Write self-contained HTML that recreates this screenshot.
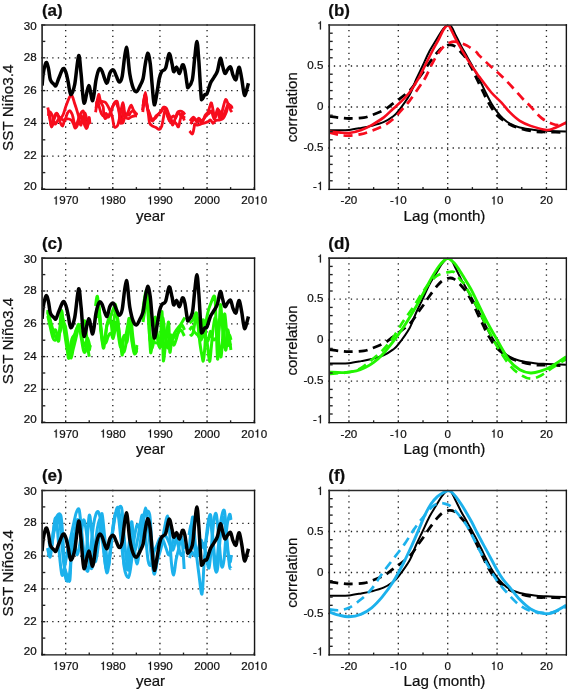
<!DOCTYPE html>
<html><head><meta charset="utf-8"><style>html,body{margin:0;padding:0;background:#fff;}svg{display:block;}</style></head><body>
<svg width="568" height="690" viewBox="0 0 568 690">
<defs><filter id="soft" x="0" y="0" width="568" height="690" filterUnits="userSpaceOnUse"><feGaussianBlur stdDeviation="0.4"/></filter></defs>
<style>text{stroke:#111;stroke-width:0.22;paint-order:stroke;}</style>
<rect width="568" height="690" fill="#fff"/>
<g filter="url(#soft)">
<clipPath id="cl0"><rect x="42.10" y="25.00" width="212.10" height="164.00"/></clipPath>
<clipPath id="cr0"><rect x="329.20" y="25.00" width="237.00" height="164.00"/></clipPath>
<line x1="65.67" y1="24.35" x2="65.67" y2="189.00" stroke="#1c1c1c" stroke-width="1.3" stroke-dasharray="1.30 4.367"/>
<line x1="112.80" y1="24.35" x2="112.80" y2="189.00" stroke="#1c1c1c" stroke-width="1.3" stroke-dasharray="1.30 4.367"/>
<line x1="159.93" y1="24.35" x2="159.93" y2="189.00" stroke="#1c1c1c" stroke-width="1.3" stroke-dasharray="1.30 4.367"/>
<line x1="207.07" y1="24.35" x2="207.07" y2="189.00" stroke="#1c1c1c" stroke-width="1.3" stroke-dasharray="1.30 4.367"/>
<line x1="41.06" y1="156.20" x2="254.20" y2="156.20" stroke="#1c1c1c" stroke-width="1.3" stroke-dasharray="1.30 4.290"/>
<line x1="41.06" y1="123.40" x2="254.20" y2="123.40" stroke="#1c1c1c" stroke-width="1.3" stroke-dasharray="1.30 4.290"/>
<line x1="41.06" y1="90.60" x2="254.20" y2="90.60" stroke="#1c1c1c" stroke-width="1.3" stroke-dasharray="1.30 4.290"/>
<line x1="41.06" y1="57.80" x2="254.20" y2="57.80" stroke="#1c1c1c" stroke-width="1.3" stroke-dasharray="1.30 4.290"/>
<g clip-path="url(#cl0)">
<path d="M47.80,107.50 C48.17,109.25 49.38,114.75 50.00,118.00 C50.62,121.25 50.83,126.83 51.50,127.00 C52.17,127.17 53.08,121.17 54.00,119.00 C54.92,116.83 56.00,114.17 57.00,114.00 C58.00,113.83 59.02,117.80 60.00,118.00 C60.98,118.20 61.90,117.20 62.90,115.20 C63.90,113.20 64.83,109.10 66.00,106.00 C67.17,102.90 68.87,98.25 69.90,96.60 C70.93,94.95 71.43,95.03 72.20,96.10 C72.97,97.17 73.83,100.98 74.50,103.00 C75.17,105.02 75.52,105.98 76.20,108.20 C76.88,110.42 78.02,114.00 78.60,116.30 C79.18,118.60 79.30,120.55 79.70,122.00 C80.10,123.45 80.45,125.67 81.00,125.00 C81.55,124.33 82.33,120.00 83.00,118.00 C83.67,116.00 84.33,112.67 85.00,113.00 C85.67,113.33 86.33,118.17 87.00,120.00 C87.67,121.83 88.67,123.33 89.00,124.00" fill="none" stroke="#f7081f" stroke-width="2.80" stroke-linejoin="round" stroke-linecap="butt"/>
<path d="M48.50,111.00 C48.83,112.83 49.92,119.50 50.50,122.00 C51.08,124.50 51.25,127.17 52.00,126.00 C52.75,124.83 54.08,117.00 55.00,115.00 C55.92,113.00 56.67,112.83 57.50,114.00 C58.33,115.17 59.17,120.00 60.00,122.00 C60.83,124.00 61.83,126.00 62.50,126.00 C63.17,126.00 63.45,123.33 64.00,122.00 C64.55,120.67 65.22,119.50 65.80,118.00 C66.38,116.50 66.82,114.23 67.50,113.00 C68.18,111.77 69.23,110.60 69.90,110.60 C70.57,110.60 71.02,112.05 71.50,113.00 C71.98,113.95 72.30,114.38 72.80,116.30 C73.30,118.22 74.02,122.75 74.50,124.50 C74.98,126.25 75.20,127.22 75.70,126.80 C76.20,126.38 76.78,123.97 77.50,122.00 C78.22,120.03 79.05,116.83 80.00,115.00 C80.95,113.17 82.38,110.50 83.20,111.00 C84.02,111.50 84.42,115.37 84.90,118.00 C85.38,120.63 85.58,125.63 86.10,126.80 C86.62,127.97 87.43,126.30 88.00,125.00 C88.57,123.70 89.25,120.00 89.50,119.00" fill="none" stroke="#f7081f" stroke-width="2.80" stroke-linejoin="round" stroke-linecap="butt"/>
<path d="M48.20,116.00 C48.50,115.33 49.28,112.00 50.00,112.00 C50.72,112.00 51.67,114.00 52.50,116.00 C53.33,118.00 54.08,123.33 55.00,124.00 C55.92,124.67 57.17,121.00 58.00,120.00 C58.83,119.00 59.17,118.00 60.00,118.00 C60.83,118.00 62.00,119.83 63.00,120.00 C64.00,120.17 65.00,119.17 66.00,119.00 C67.00,118.83 68.07,118.77 69.00,119.00 C69.93,119.23 70.85,119.57 71.60,120.40 C72.35,121.23 72.93,122.73 73.50,124.00 C74.07,125.27 74.42,127.67 75.00,128.00 C75.58,128.33 76.33,127.33 77.00,126.00 C77.67,124.67 78.33,121.67 79.00,120.00 C79.67,118.33 80.33,116.00 81.00,116.00 C81.67,116.00 82.33,118.33 83.00,120.00 C83.67,121.67 84.33,124.67 85.00,126.00 C85.67,127.33 86.33,129.42 87.00,128.00 C87.67,126.58 88.50,118.17 89.00,117.50 C89.50,116.83 89.83,122.92 90.00,124.00" fill="none" stroke="#f7081f" stroke-width="2.80" stroke-linejoin="round" stroke-linecap="butt"/>
<path d="M95.60,112.20 C95.83,110.67 96.48,105.97 97.00,103.00 C97.52,100.03 98.08,94.57 98.70,94.40 C99.32,94.23 99.95,99.90 100.70,102.00 C101.45,104.10 102.68,104.87 103.20,107.00 C103.72,109.13 103.48,112.87 103.80,114.80 C104.12,116.73 104.57,118.23 105.10,118.60 C105.63,118.97 106.35,117.32 107.00,117.00 C107.65,116.68 108.33,117.53 109.00,116.70 C109.67,115.87 110.33,113.78 111.00,112.00 C111.67,110.22 112.28,107.67 113.00,106.00 C113.72,104.33 114.55,102.00 115.30,102.00 C116.05,102.00 116.77,104.08 117.50,106.00 C118.23,107.92 119.22,110.67 119.70,113.50 C120.18,116.33 120.02,121.92 120.40,123.00 C120.78,124.08 121.48,122.17 122.00,120.00 C122.52,117.83 122.92,110.55 123.50,110.00 C124.08,109.45 124.75,116.33 125.50,116.70 C126.25,117.07 127.33,113.65 128.00,112.20 C128.67,110.75 128.97,109.17 129.50,108.00 C130.03,106.83 130.62,105.03 131.20,105.20 C131.78,105.37 132.37,107.62 133.00,109.00 C133.63,110.38 134.23,112.65 135.00,113.50 C135.77,114.35 137.17,114.00 137.60,114.10" fill="none" stroke="#f7081f" stroke-width="2.80" stroke-linejoin="round" stroke-linecap="butt"/>
<path d="M96.50,104.00 C96.75,103.17 97.42,99.50 98.00,99.00 C98.58,98.50 99.35,100.60 100.00,101.00 C100.65,101.40 100.93,101.12 101.90,101.40 C102.87,101.68 104.62,101.53 105.80,102.70 C106.98,103.87 107.95,106.18 109.00,108.40 C110.05,110.62 111.27,113.02 112.10,116.00 C112.93,118.98 113.35,124.47 114.00,126.30 C114.65,128.13 115.37,127.22 116.00,127.00 C116.63,126.78 117.22,126.50 117.80,125.00 C118.38,123.50 118.88,120.83 119.50,118.00 C120.12,115.17 120.93,110.55 121.50,108.00 C122.07,105.45 122.48,102.70 122.90,102.70 C123.32,102.70 123.68,105.88 124.00,108.00 C124.32,110.12 124.38,113.73 124.80,115.40 C125.22,117.07 125.85,117.47 126.50,118.00 C127.15,118.53 127.95,118.77 128.70,118.60 C129.45,118.43 130.12,117.43 131.00,117.00 C131.88,116.57 133.00,116.17 134.00,116.00 C135.00,115.83 136.50,116.00 137.00,116.00" fill="none" stroke="#f7081f" stroke-width="2.80" stroke-linejoin="round" stroke-linecap="butt"/>
<path d="M96.00,108.00 C96.25,106.67 97.00,100.33 97.50,100.00 C98.00,99.67 98.33,103.67 99.00,106.00 C99.67,108.33 100.67,112.33 101.50,114.00 C102.33,115.67 103.28,116.08 104.00,116.00 C104.72,115.92 105.22,113.67 105.80,113.50 C106.38,113.33 106.97,114.68 107.50,115.00 C108.03,115.32 108.33,116.40 109.00,115.40 C109.67,114.40 110.67,110.90 111.50,109.00 C112.33,107.10 113.05,105.27 114.00,104.00 C114.95,102.73 116.37,100.07 117.20,101.40 C118.03,102.73 118.45,108.73 119.00,112.00 C119.55,115.27 119.85,119.17 120.50,121.00 C121.15,122.83 122.23,123.50 122.90,123.00 C123.57,122.50 123.90,119.50 124.50,118.00 C125.10,116.50 125.83,114.50 126.50,114.00 C127.17,113.50 128.03,114.87 128.50,115.00 C128.97,115.13 128.88,115.30 129.30,114.80 C129.72,114.30 130.22,112.63 131.00,112.00 C131.78,111.37 133.00,110.50 134.00,111.00 C135.00,111.50 136.50,114.33 137.00,115.00" fill="none" stroke="#f7081f" stroke-width="2.80" stroke-linejoin="round" stroke-linecap="butt"/>
<path d="M142.50,110.30 C142.72,108.70 143.32,103.67 143.80,100.70 C144.28,97.73 144.97,92.50 145.40,92.50 C145.83,92.50 146.13,98.28 146.40,100.70 C146.67,103.12 146.47,104.87 147.00,107.00 C147.53,109.13 148.85,111.57 149.60,113.50 C150.35,115.43 150.65,117.75 151.50,118.60 C152.35,119.45 153.78,119.03 154.70,118.60 C155.62,118.17 156.27,116.85 157.00,116.00 C157.73,115.15 158.22,114.67 159.10,113.50 C159.98,112.33 161.45,110.07 162.30,109.00 C163.15,107.93 163.52,107.22 164.20,107.10 C164.88,106.98 165.65,107.15 166.40,108.30 C167.15,109.45 167.83,111.97 168.70,114.00 C169.57,116.03 170.93,118.67 171.60,120.50 C172.27,122.33 172.13,125.20 172.70,125.00 C173.27,124.80 174.22,121.40 175.00,119.30 C175.78,117.20 176.52,113.75 177.40,112.40 C178.28,111.05 179.33,111.20 180.30,111.20 C181.27,111.20 182.43,111.82 183.20,112.40 C183.97,112.98 184.62,114.32 184.90,114.70" fill="none" stroke="#f7081f" stroke-width="2.80" stroke-linejoin="round" stroke-linecap="butt"/>
<path d="M142.80,112.00 C143.08,109.67 144.00,100.67 144.50,98.00 C145.00,95.33 145.38,94.83 145.80,96.00 C146.22,97.17 146.55,101.83 147.00,105.00 C147.45,108.17 148.07,112.00 148.50,115.00 C148.93,118.00 148.90,121.13 149.60,123.00 C150.30,124.87 151.63,125.45 152.70,126.20 C153.77,126.95 154.93,126.97 156.00,127.50 C157.07,128.03 158.15,129.62 159.10,129.40 C160.05,129.18 160.95,128.32 161.70,126.20 C162.45,124.08 163.05,119.40 163.60,116.70 C164.15,114.00 164.52,110.78 165.00,110.00 C165.48,109.22 165.92,110.67 166.50,112.00 C167.08,113.33 167.83,116.33 168.50,118.00 C169.17,119.67 169.83,121.00 170.50,122.00 C171.17,123.00 171.83,124.00 172.50,124.00 C173.17,124.00 173.83,122.00 174.50,122.00 C175.17,122.00 175.83,123.20 176.50,124.00 C177.17,124.80 177.87,127.58 178.50,126.80 C179.13,126.02 179.72,121.43 180.30,119.30 C180.88,117.17 181.33,113.80 182.00,114.00 C182.67,114.20 183.92,119.42 184.30,120.50" fill="none" stroke="#f7081f" stroke-width="2.80" stroke-linejoin="round" stroke-linecap="butt"/>
<path d="M143.00,106.00 C143.33,104.17 144.42,95.67 145.00,95.00 C145.58,94.33 146.00,99.50 146.50,102.00 C147.00,104.50 147.42,107.50 148.00,110.00 C148.58,112.50 149.22,115.17 150.00,117.00 C150.78,118.83 151.70,121.17 152.70,121.00 C153.70,120.83 155.03,117.17 156.00,116.00 C156.97,114.83 157.67,114.67 158.50,114.00 C159.33,113.33 160.17,113.13 161.00,112.00 C161.83,110.87 162.75,107.53 163.50,107.20 C164.25,106.87 164.83,108.53 165.50,110.00 C166.17,111.47 166.83,114.17 167.50,116.00 C168.17,117.83 168.92,120.67 169.50,121.00 C170.08,121.33 170.33,118.83 171.00,118.00 C171.67,117.17 172.75,116.00 173.50,116.00 C174.25,116.00 174.92,118.17 175.50,118.00 C176.08,117.83 176.42,115.83 177.00,115.00 C177.58,114.17 178.33,112.83 179.00,113.00 C179.67,113.17 180.25,115.17 181.00,116.00 C181.75,116.83 182.92,118.00 183.50,118.00 C184.08,118.00 184.33,116.33 184.50,116.00" fill="none" stroke="#f7081f" stroke-width="2.80" stroke-linejoin="round" stroke-linecap="butt"/>
<path d="M189.50,131.00 C189.98,131.48 191.63,134.48 192.40,133.90 C193.17,133.32 193.72,129.15 194.10,127.50 C194.48,125.85 194.12,124.38 194.70,124.00 C195.28,123.62 196.53,125.20 197.60,125.20 C198.67,125.20 199.93,124.38 201.10,124.00 C202.27,123.62 203.45,123.28 204.60,122.90 C205.75,122.52 207.02,122.18 208.00,121.70 C208.98,121.22 209.68,119.73 210.50,120.00 C211.32,120.27 212.15,123.13 212.90,123.30 C213.65,123.47 214.42,121.48 215.00,121.00 C215.58,120.52 215.58,120.60 216.40,120.40 C217.22,120.20 218.73,120.18 219.90,119.80 C221.07,119.42 222.33,119.35 223.40,118.10 C224.47,116.85 225.45,114.48 226.30,112.30 C227.15,110.12 227.63,105.97 228.50,105.00 C229.37,104.03 230.92,105.87 231.50,106.50 C232.08,107.13 231.92,108.42 232.00,108.80" fill="none" stroke="#f7081f" stroke-width="2.80" stroke-linejoin="round" stroke-linecap="butt"/>
<path d="M190.00,121.10 C190.58,120.43 192.43,117.20 193.50,117.10 C194.57,117.00 195.52,120.32 196.40,120.50 C197.28,120.68 198.02,118.20 198.80,118.20 C199.58,118.20 200.33,120.30 201.10,120.50 C201.87,120.70 202.72,120.27 203.40,119.40 C204.08,118.53 204.42,116.57 205.20,115.30 C205.98,114.03 207.33,113.25 208.10,111.80 C208.87,110.35 209.23,108.07 209.80,106.60 C210.37,105.13 210.88,102.05 211.50,103.00 C212.12,103.95 212.92,109.97 213.50,112.30 C214.08,114.63 214.32,117.58 215.00,117.00 C215.68,116.42 216.98,109.10 217.60,108.80 C218.22,108.50 218.30,113.50 218.70,115.20 C219.10,116.90 219.62,118.82 220.00,119.00 C220.38,119.18 220.43,118.38 221.00,116.30 C221.57,114.22 222.62,109.30 223.40,106.50 C224.18,103.70 224.93,99.98 225.70,99.50 C226.47,99.02 227.28,102.52 228.00,103.60 C228.72,104.68 229.42,105.52 230.00,106.00 C230.58,106.48 231.25,106.42 231.50,106.50" fill="none" stroke="#f7081f" stroke-width="2.80" stroke-linejoin="round" stroke-linecap="butt"/>
<path d="M190.50,124.00 C190.83,123.50 191.83,121.83 192.50,121.00 C193.17,120.17 193.75,118.83 194.50,119.00 C195.25,119.17 196.17,121.67 197.00,122.00 C197.83,122.33 198.67,121.00 199.50,121.00 C200.33,121.00 201.17,122.50 202.00,122.00 C202.83,121.50 203.67,119.17 204.50,118.00 C205.33,116.83 206.17,115.83 207.00,115.00 C207.83,114.17 208.75,113.67 209.50,113.00 C210.25,112.33 210.92,110.50 211.50,111.00 C212.08,111.50 212.50,114.67 213.00,116.00 C213.50,117.33 213.92,119.33 214.50,119.00 C215.08,118.67 215.83,115.50 216.50,114.00 C217.17,112.50 217.83,110.17 218.50,110.00 C219.17,109.83 219.83,111.83 220.50,113.00 C221.17,114.17 221.83,117.00 222.50,117.00 C223.17,117.00 223.83,114.50 224.50,113.00 C225.17,111.50 225.83,109.50 226.50,108.00 C227.17,106.50 227.83,103.67 228.50,104.00 C229.17,104.33 229.92,108.67 230.50,110.00 C231.08,111.33 231.75,111.67 232.00,112.00" fill="none" stroke="#f7081f" stroke-width="2.80" stroke-linejoin="round" stroke-linecap="butt"/>
<path d="M42.10,85.60 C42.30,83.55 42.63,77.15 43.30,73.30 C43.97,69.45 45.23,63.28 46.10,62.50 C46.97,61.72 47.78,65.70 48.50,68.60 C49.22,71.50 49.45,77.23 50.40,79.90 C51.35,82.57 53.27,83.65 54.20,84.60 C55.13,85.55 55.22,86.70 56.00,85.60 C56.78,84.50 57.72,80.83 58.90,78.00 C60.08,75.17 61.93,69.53 63.10,68.60 C64.27,67.67 65.03,70.05 65.90,72.40 C66.77,74.75 67.50,79.02 68.30,82.70 C69.10,86.38 69.63,94.20 70.70,94.50 C71.77,94.80 73.38,90.95 74.70,84.50 C76.02,78.05 77.53,57.55 78.60,55.80 C79.67,54.05 80.20,66.13 81.10,74.00 C82.00,81.87 82.73,101.07 84.00,103.00 C85.27,104.93 87.25,85.98 88.70,85.60 C90.15,85.22 91.48,101.63 92.70,100.70 C93.92,99.77 94.95,85.22 96.00,80.00 C97.05,74.78 98.00,70.90 99.00,69.40 C100.00,67.90 100.73,68.68 102.00,71.00 C103.27,73.32 105.27,82.98 106.60,83.30 C107.93,83.62 108.85,75.12 110.00,72.90 C111.15,70.68 112.43,69.43 113.50,70.00 C114.57,70.57 115.43,74.28 116.40,76.30 C117.37,78.32 118.33,82.10 119.30,82.10 C120.27,82.10 121.03,82.08 122.20,76.30 C123.37,70.52 125.03,47.78 126.30,47.40 C127.57,47.02 128.65,67.23 129.80,74.00 C130.95,80.77 132.08,85.05 133.20,88.00 C134.32,90.95 135.35,92.10 136.50,91.70 C137.65,91.30 139.00,87.80 140.10,85.60 C141.20,83.40 142.27,81.88 143.10,78.50 C143.93,75.12 144.33,69.52 145.10,65.30 C145.87,61.08 146.85,53.53 147.70,53.20 C148.55,52.87 149.45,57.90 150.20,63.30 C150.95,68.70 151.52,78.68 152.20,85.60 C152.88,92.52 153.45,103.95 154.30,104.80 C155.15,105.65 156.47,95.08 157.30,90.70 C158.13,86.32 158.55,81.72 159.30,78.50 C160.05,75.28 160.75,73.12 161.80,71.40 C162.85,69.68 164.38,71.15 165.60,68.20 C166.82,65.25 168.03,54.47 169.10,53.70 C170.17,52.93 171.23,60.60 172.00,63.60 C172.77,66.60 172.93,71.12 173.70,71.70 C174.47,72.28 175.63,66.80 176.60,67.10 C177.57,67.40 178.53,73.88 179.50,73.50 C180.47,73.12 181.52,65.48 182.40,64.80 C183.28,64.12 184.02,66.12 184.80,69.40 C185.58,72.68 186.53,81.50 187.10,84.50 C187.67,87.50 187.33,88.18 188.20,87.40 C189.07,86.62 191.23,84.53 192.30,79.80 C193.37,75.07 193.83,65.37 194.60,59.00 C195.37,52.63 196.22,41.60 196.90,41.60 C197.58,41.60 198.02,50.12 198.70,59.00 C199.38,67.88 200.43,88.15 201.00,94.90 C201.57,101.65 201.50,99.50 202.10,99.50 C202.70,99.50 203.78,95.87 204.60,94.90 C205.42,93.93 206.03,95.63 207.00,93.70 C207.97,91.77 209.25,86.00 210.40,83.30 C211.55,80.60 212.73,79.53 213.90,77.50 C215.07,75.47 216.33,74.28 217.40,71.10 C218.47,67.92 219.43,59.27 220.30,58.40 C221.17,57.53 221.83,63.40 222.60,65.90 C223.37,68.40 224.03,72.82 224.90,73.40 C225.77,73.98 226.83,70.45 227.80,69.40 C228.77,68.35 229.83,66.13 230.70,67.10 C231.57,68.07 232.13,73.08 233.00,75.20 C233.87,77.32 235.13,80.38 235.90,79.80 C236.67,79.22 237.02,73.73 237.60,71.70 C238.18,69.67 238.72,66.45 239.40,67.60 C240.08,68.75 241.03,74.83 241.70,78.60 C242.37,82.37 242.87,87.38 243.40,90.20 C243.93,93.02 244.32,95.68 244.90,95.50 C245.48,95.32 246.32,91.13 246.90,89.10 C247.48,87.07 248.15,84.27 248.40,83.30" fill="none" stroke="#000" stroke-width="3.50" stroke-linejoin="round" stroke-linecap="butt"/>
</g>
<line x1="42.10" y1="189.00" x2="45.30" y2="189.00" stroke="#222" stroke-width="1.35"/>
<line x1="42.10" y1="172.60" x2="45.30" y2="172.60" stroke="#222" stroke-width="1.35"/>
<line x1="42.10" y1="156.20" x2="45.30" y2="156.20" stroke="#222" stroke-width="1.35"/>
<line x1="42.10" y1="139.80" x2="45.30" y2="139.80" stroke="#222" stroke-width="1.35"/>
<line x1="42.10" y1="123.40" x2="45.30" y2="123.40" stroke="#222" stroke-width="1.35"/>
<line x1="42.10" y1="107.00" x2="45.30" y2="107.00" stroke="#222" stroke-width="1.35"/>
<line x1="42.10" y1="90.60" x2="45.30" y2="90.60" stroke="#222" stroke-width="1.35"/>
<line x1="42.10" y1="74.20" x2="45.30" y2="74.20" stroke="#222" stroke-width="1.35"/>
<line x1="42.10" y1="57.80" x2="45.30" y2="57.80" stroke="#222" stroke-width="1.35"/>
<line x1="42.10" y1="41.40" x2="45.30" y2="41.40" stroke="#222" stroke-width="1.35"/>
<line x1="42.10" y1="25.00" x2="45.30" y2="25.00" stroke="#222" stroke-width="1.35"/>
<line x1="42.10" y1="189.40" x2="42.10" y2="187.10" stroke="#222" stroke-width="1.35"/>
<line x1="65.67" y1="189.40" x2="65.67" y2="187.10" stroke="#222" stroke-width="1.35"/>
<line x1="89.23" y1="189.40" x2="89.23" y2="187.10" stroke="#222" stroke-width="1.35"/>
<line x1="112.80" y1="189.40" x2="112.80" y2="187.10" stroke="#222" stroke-width="1.35"/>
<line x1="136.37" y1="189.40" x2="136.37" y2="187.10" stroke="#222" stroke-width="1.35"/>
<line x1="159.93" y1="189.40" x2="159.93" y2="187.10" stroke="#222" stroke-width="1.35"/>
<line x1="183.50" y1="189.40" x2="183.50" y2="187.10" stroke="#222" stroke-width="1.35"/>
<line x1="207.07" y1="189.40" x2="207.07" y2="187.10" stroke="#222" stroke-width="1.35"/>
<line x1="230.63" y1="189.40" x2="230.63" y2="187.10" stroke="#222" stroke-width="1.35"/>
<line x1="254.20" y1="189.40" x2="254.20" y2="187.10" stroke="#222" stroke-width="1.35"/>
<line x1="41.30" y1="25.00" x2="255.25" y2="25.00" stroke="#2c2c2c" stroke-width="1.7"/>
<line x1="42.10" y1="24.20" x2="42.10" y2="190.10" stroke="#2c2c2c" stroke-width="1.7"/>
<line x1="41.30" y1="189.40" x2="255.25" y2="189.40" stroke="#141414" stroke-width="1.4"/>
<line x1="254.55" y1="24.20" x2="254.55" y2="190.10" stroke="#141414" stroke-width="1.4"/>
<text x="23.70" y="189.70" font-family='"Liberation Sans", sans-serif' font-size="11.6" fill="#111">20</text>
<text x="23.70" y="159.20" font-family='"Liberation Sans", sans-serif' font-size="11.6" fill="#111">22</text>
<text x="23.70" y="126.40" font-family='"Liberation Sans", sans-serif' font-size="11.6" fill="#111">24</text>
<text x="23.70" y="93.60" font-family='"Liberation Sans", sans-serif' font-size="11.6" fill="#111">26</text>
<text x="23.70" y="60.80" font-family='"Liberation Sans", sans-serif' font-size="11.6" fill="#111">28</text>
<text x="23.70" y="29.90" font-family='"Liberation Sans", sans-serif' font-size="11.6" fill="#111">30</text>
<path d="M56.73,204.40 L56.73,196.18 L56.04,196.18 C55.70,197.37 55.15,197.67 54.22,197.83 L54.22,198.51 L55.70,198.51 L55.70,204.40 Z" fill="#111" stroke="#111" stroke-width="0.22" stroke-linejoin="round"/>
<text x="59.22" y="204.40" font-family='"Liberation Sans", sans-serif' font-size="11.6" fill="#111">970</text>
<path d="M103.87,204.40 L103.87,196.18 L103.17,196.18 C102.84,197.37 102.28,197.67 101.35,197.83 L101.35,198.51 L102.84,198.51 L102.84,204.40 Z" fill="#111" stroke="#111" stroke-width="0.22" stroke-linejoin="round"/>
<text x="106.35" y="204.40" font-family='"Liberation Sans", sans-serif' font-size="11.6" fill="#111">980</text>
<path d="M151.00,204.40 L151.00,196.18 L150.31,196.18 C149.97,197.37 149.41,197.67 148.48,197.83 L148.48,198.51 L149.97,198.51 L149.97,204.40 Z" fill="#111" stroke="#111" stroke-width="0.22" stroke-linejoin="round"/>
<text x="153.48" y="204.40" font-family='"Liberation Sans", sans-serif' font-size="11.6" fill="#111">990</text>
<text x="194.17" y="204.40" font-family='"Liberation Sans", sans-serif' font-size="11.6" fill="#111">2000</text>
<text x="241.30" y="204.40" font-family='"Liberation Sans", sans-serif' font-size="11.6" fill="#111">20</text>
<path d="M258.17,204.40 L258.17,196.18 L257.47,196.18 C257.13,197.37 256.58,197.67 255.65,197.83 L255.65,198.51 L257.13,198.51 L257.13,204.40 Z" fill="#111" stroke="#111" stroke-width="0.22" stroke-linejoin="round"/>
<text x="260.65" y="204.40" font-family='"Liberation Sans", sans-serif' font-size="11.6" fill="#111">0</text>
<text x="150.5" y="221.20" text-anchor="middle" font-family='"Liberation Sans", sans-serif' font-size="15" fill="#111">year</text>
<text transform="translate(13.4,107.80) rotate(-90)" text-anchor="middle" font-family='"Liberation Sans", sans-serif' font-size="15.3" fill="#111">SST Niño3.4</text>
<text x="41.9" y="15.60" font-family='"Liberation Sans", sans-serif' font-size="17" font-weight="bold" fill="#111">(a)</text>
<line x1="348.95" y1="24.35" x2="348.95" y2="189.00" stroke="#1c1c1c" stroke-width="1.3" stroke-dasharray="1.30 4.367"/>
<line x1="398.32" y1="24.35" x2="398.32" y2="189.00" stroke="#1c1c1c" stroke-width="1.3" stroke-dasharray="1.30 4.367"/>
<line x1="447.70" y1="24.35" x2="447.70" y2="189.00" stroke="#1c1c1c" stroke-width="1.3" stroke-dasharray="1.30 4.367"/>
<line x1="497.08" y1="24.35" x2="497.08" y2="189.00" stroke="#1c1c1c" stroke-width="1.3" stroke-dasharray="1.30 4.367"/>
<line x1="546.45" y1="24.35" x2="546.45" y2="189.00" stroke="#1c1c1c" stroke-width="1.3" stroke-dasharray="1.30 4.367"/>
<line x1="328.20" y1="148.00" x2="566.20" y2="148.00" stroke="#1c1c1c" stroke-width="1.3" stroke-dasharray="1.30 4.355"/>
<line x1="328.20" y1="107.00" x2="566.20" y2="107.00" stroke="#1c1c1c" stroke-width="1.3" stroke-dasharray="1.30 4.355"/>
<line x1="328.20" y1="66.00" x2="566.20" y2="66.00" stroke="#1c1c1c" stroke-width="1.3" stroke-dasharray="1.30 4.355"/>
<g clip-path="url(#cr0)">
<path d="M329.20,116.43 C330.85,116.63 335.78,117.32 339.07,117.66 C342.37,118.00 344.84,118.48 348.95,118.48 C353.06,118.48 359.98,118.21 363.76,117.66 C367.55,117.11 368.37,116.43 371.66,115.20 C374.95,113.97 379.97,112.19 383.51,110.28 C387.05,108.37 388.53,107.00 392.89,103.72 C397.26,100.44 405.48,94.70 409.68,90.60 C413.88,86.50 415.69,82.40 418.07,79.12 C420.46,75.84 422.19,73.52 424.00,70.92 C425.81,68.32 426.72,66.61 428.94,63.54 C431.16,60.46 435.03,55.20 437.33,52.47 C439.64,49.74 440.79,48.41 442.76,47.14 C444.74,45.87 447.29,45.05 449.18,44.84 C451.07,44.64 452.14,44.68 454.12,45.91 C456.09,47.14 459.06,50.17 461.03,52.22 C463.01,54.27 464.16,55.50 465.97,58.21 C467.78,60.92 470.00,64.84 471.89,68.46 C473.79,72.08 475.43,75.98 477.33,79.94 C479.22,83.90 481.44,88.55 483.25,92.24 C485.06,95.93 485.88,98.25 488.19,102.08 C490.49,105.91 493.54,111.51 497.08,115.20 C500.61,118.89 505.63,122.03 509.42,124.22 C513.20,126.41 515.59,127.09 519.79,128.32 C523.98,129.55 530.16,130.99 534.60,131.60 C539.04,132.22 541.18,131.87 546.45,132.01 C551.72,132.15 562.91,132.35 566.20,132.42" fill="none" stroke="#000" stroke-width="2.80" stroke-linejoin="round" stroke-linecap="butt" stroke-dasharray="9.0 5.8"/>
<path d="M329.20,130.21 C330.85,130.23 335.78,130.41 339.07,130.37 C342.37,130.33 345.25,130.37 348.95,129.96 C352.65,129.55 357.51,128.59 361.29,127.91 C365.08,127.23 367.96,126.82 371.66,125.86 C375.37,124.90 379.97,123.74 383.51,122.17 C387.05,120.60 390.43,118.27 392.89,116.43 C395.36,114.58 395.53,114.72 398.32,111.10 C401.12,107.48 406.72,99.96 409.68,94.70 C412.64,89.44 413.96,84.31 416.10,79.53 C418.24,74.75 420.30,70.72 422.52,66.00 C424.74,61.28 427.21,55.48 429.43,51.24 C431.65,47.00 433.84,43.91 435.85,40.58 C437.86,37.25 439.83,33.62 441.48,31.23 C443.12,28.84 444.52,27.20 445.73,26.23 C446.93,25.26 447.70,25.27 448.69,25.41 C449.68,25.55 450.47,25.40 451.65,27.05 C452.84,28.70 454.23,32.19 455.80,35.33 C457.37,38.48 459.31,42.58 461.08,45.91 C462.85,49.24 464.64,52.18 466.41,55.34 C468.18,58.50 470.04,61.85 471.70,64.85 C473.35,67.86 474.74,70.32 476.34,73.38 C477.93,76.44 479.65,79.90 481.28,83.22 C482.90,86.54 484.47,90.03 486.11,93.31 C487.76,96.59 489.32,99.80 491.15,102.90 C492.98,106.00 495.10,109.32 497.08,111.92 C499.05,114.52 500.94,116.57 503.00,118.48 C505.06,120.39 506.62,121.90 509.42,123.40 C512.22,124.90 515.59,126.41 519.79,127.50 C523.98,128.59 530.16,129.41 534.60,129.96 C539.04,130.51 541.18,130.51 546.45,130.78 C551.72,131.05 562.91,131.46 566.20,131.60" fill="none" stroke="#000" stroke-width="2.00" stroke-linejoin="round" stroke-linecap="butt"/>
<path d="M329.20,132.42 C330.85,132.83 335.78,134.33 339.07,134.88 C342.37,135.43 345.25,135.84 348.95,135.70 C352.65,135.56 357.51,134.88 361.29,134.06 C365.08,133.24 367.96,132.15 371.66,130.78 C375.37,129.41 379.97,127.77 383.51,125.86 C387.05,123.95 389.93,121.90 392.89,119.30 C395.86,116.70 398.49,113.38 401.29,110.28 C404.09,107.18 406.55,104.79 409.68,100.69 C412.81,96.59 417.42,89.55 420.05,85.68 C422.68,81.81 423.59,80.90 425.48,77.48 C427.37,74.06 429.35,69.14 431.41,65.18 C433.46,61.22 435.77,56.84 437.82,53.70 C439.88,50.56 441.77,48.16 443.75,46.32 C445.73,44.48 447.83,43.40 449.68,42.63 C451.52,41.86 452.92,41.66 454.81,41.73 C456.70,41.80 458.92,42.34 461.03,43.04 C463.14,43.74 464.90,44.41 467.45,45.91 C470.00,47.41 474.40,50.49 476.34,52.06 C478.28,53.63 476.64,52.88 479.10,55.34 C481.56,57.80 487.33,63.33 491.10,66.82 C494.87,70.30 498.20,72.89 501.72,76.25 C505.23,79.61 508.68,83.23 512.18,86.99 C515.69,90.75 519.92,95.81 522.75,98.80 C525.58,101.79 526.12,101.81 529.17,104.95 C532.21,108.09 537.32,114.58 541.02,117.66 C544.72,120.73 548.43,122.17 551.39,123.40 C554.35,124.63 556.33,125.18 558.79,125.04 C561.26,124.90 564.97,122.99 566.20,122.58" fill="none" stroke="#f7081f" stroke-width="2.70" stroke-linejoin="round" stroke-linecap="butt" stroke-dasharray="9.0 5.8"/>
<path d="M329.20,131.60 C330.85,131.74 335.78,132.17 339.07,132.42 C342.37,132.67 345.25,133.49 348.95,133.08 C352.65,132.67 357.51,131.30 361.29,129.96 C365.08,128.62 367.96,127.09 371.66,125.04 C375.37,122.99 379.97,120.32 383.51,117.66 C387.05,115.00 389.77,111.92 392.89,109.05 C396.02,106.18 399.48,103.24 402.27,100.44 C405.07,97.64 407.11,95.66 409.68,92.24 C412.25,88.82 415.19,84.23 417.68,79.94 C420.17,75.65 422.21,71.19 424.59,66.49 C426.98,61.79 429.71,56.13 432.00,51.73 C434.29,47.33 436.38,43.79 438.32,40.09 C440.25,36.38 442.04,32.02 443.60,29.51 C445.17,27.00 446.77,25.62 447.70,25.00 C448.63,24.38 447.63,23.09 449.18,25.82 C450.73,28.55 453.94,35.80 456.98,41.40 C460.03,47.00 464.06,53.97 467.45,59.44 C470.84,64.91 475.14,71.02 477.33,74.20 C479.51,77.38 478.29,75.54 480.58,78.55 C482.88,81.55 487.58,88.19 491.10,92.24 C494.62,96.29 498.66,99.54 501.72,102.82 C504.77,106.10 506.41,108.90 509.42,111.92 C512.43,114.94 516.25,118.62 519.79,120.94 C523.33,123.26 526.21,124.36 530.65,125.86 C535.09,127.36 542.58,129.55 546.45,129.96 C550.32,130.37 550.56,129.55 553.86,128.32 C557.15,127.09 564.14,123.54 566.20,122.58" fill="none" stroke="#f7081f" stroke-width="2.60" stroke-linejoin="round" stroke-linecap="butt"/>
</g>
<line x1="329.20" y1="180.80" x2="332.70" y2="180.80" stroke="#222" stroke-width="1.35"/>
<line x1="329.20" y1="172.60" x2="332.70" y2="172.60" stroke="#222" stroke-width="1.35"/>
<line x1="329.20" y1="164.40" x2="332.70" y2="164.40" stroke="#222" stroke-width="1.35"/>
<line x1="329.20" y1="156.20" x2="332.70" y2="156.20" stroke="#222" stroke-width="1.35"/>
<line x1="329.20" y1="139.80" x2="332.70" y2="139.80" stroke="#222" stroke-width="1.35"/>
<line x1="329.20" y1="131.60" x2="332.70" y2="131.60" stroke="#222" stroke-width="1.35"/>
<line x1="329.20" y1="123.40" x2="332.70" y2="123.40" stroke="#222" stroke-width="1.35"/>
<line x1="329.20" y1="115.20" x2="332.70" y2="115.20" stroke="#222" stroke-width="1.35"/>
<line x1="329.20" y1="98.80" x2="332.70" y2="98.80" stroke="#222" stroke-width="1.35"/>
<line x1="329.20" y1="90.60" x2="332.70" y2="90.60" stroke="#222" stroke-width="1.35"/>
<line x1="329.20" y1="82.40" x2="332.70" y2="82.40" stroke="#222" stroke-width="1.35"/>
<line x1="329.20" y1="74.20" x2="332.70" y2="74.20" stroke="#222" stroke-width="1.35"/>
<line x1="329.20" y1="57.80" x2="332.70" y2="57.80" stroke="#222" stroke-width="1.35"/>
<line x1="329.20" y1="49.60" x2="332.70" y2="49.60" stroke="#222" stroke-width="1.35"/>
<line x1="329.20" y1="41.40" x2="332.70" y2="41.40" stroke="#222" stroke-width="1.35"/>
<line x1="329.20" y1="33.20" x2="332.70" y2="33.20" stroke="#222" stroke-width="1.35"/>
<line x1="348.95" y1="189.40" x2="348.95" y2="187.10" stroke="#222" stroke-width="1.35"/>
<line x1="373.64" y1="189.40" x2="373.64" y2="187.10" stroke="#222" stroke-width="1.35"/>
<line x1="398.32" y1="189.40" x2="398.32" y2="187.10" stroke="#222" stroke-width="1.35"/>
<line x1="423.01" y1="189.40" x2="423.01" y2="187.10" stroke="#222" stroke-width="1.35"/>
<line x1="447.70" y1="189.40" x2="447.70" y2="187.10" stroke="#222" stroke-width="1.35"/>
<line x1="472.39" y1="189.40" x2="472.39" y2="187.10" stroke="#222" stroke-width="1.35"/>
<line x1="497.08" y1="189.40" x2="497.08" y2="187.10" stroke="#222" stroke-width="1.35"/>
<line x1="521.76" y1="189.40" x2="521.76" y2="187.10" stroke="#222" stroke-width="1.35"/>
<line x1="546.45" y1="189.40" x2="546.45" y2="187.10" stroke="#222" stroke-width="1.35"/>
<line x1="328.40" y1="25.00" x2="567.05" y2="25.00" stroke="#2c2c2c" stroke-width="1.7"/>
<line x1="329.20" y1="24.20" x2="329.20" y2="190.10" stroke="#2c2c2c" stroke-width="1.7"/>
<line x1="328.40" y1="189.40" x2="567.05" y2="189.40" stroke="#141414" stroke-width="1.4"/>
<line x1="566.35" y1="24.20" x2="566.35" y2="190.10" stroke="#141414" stroke-width="1.4"/>
<path d="M320.92,29.40 L320.92,21.18 L320.22,21.18 C319.89,22.37 319.33,22.67 318.40,22.83 L318.40,23.51 L319.89,23.51 L319.89,29.40 Z" fill="#111" stroke="#111" stroke-width="0.22" stroke-linejoin="round"/>
<text x="307.28" y="69.00" font-family='"Liberation Sans", sans-serif' font-size="11.6" fill="#111">0.5</text>
<text x="316.95" y="110.00" font-family='"Liberation Sans", sans-serif' font-size="11.6" fill="#111">0</text>
<text x="303.41" y="151.00" font-family='"Liberation Sans", sans-serif' font-size="11.6" fill="#111">-0.5</text>
<text x="313.09" y="190.00" font-family='"Liberation Sans", sans-serif' font-size="11.6" fill="#111">-</text>
<path d="M320.92,190.00 L320.92,181.78 L320.22,181.78 C319.89,182.97 319.33,183.27 318.40,183.43 L318.40,184.11 L319.89,184.11 L319.89,190.00 Z" fill="#111" stroke="#111" stroke-width="0.22" stroke-linejoin="round"/>
<text x="340.57" y="204.40" font-family='"Liberation Sans", sans-serif' font-size="11.6" fill="#111">-20</text>
<text x="389.94" y="204.40" font-family='"Liberation Sans", sans-serif' font-size="11.6" fill="#111">-</text>
<path d="M397.77,204.40 L397.77,196.18 L397.08,196.18 C396.74,197.37 396.18,197.67 395.26,197.83 L395.26,198.51 L396.74,198.51 L396.74,204.40 Z" fill="#111" stroke="#111" stroke-width="0.22" stroke-linejoin="round"/>
<text x="400.26" y="204.40" font-family='"Liberation Sans", sans-serif' font-size="11.6" fill="#111">0</text>
<text x="444.48" y="204.40" font-family='"Liberation Sans", sans-serif' font-size="11.6" fill="#111">0</text>
<path d="M494.59,204.40 L494.59,196.18 L493.90,196.18 C493.56,197.37 493.00,197.67 492.08,197.83 L492.08,198.51 L493.56,198.51 L493.56,204.40 Z" fill="#111" stroke="#111" stroke-width="0.22" stroke-linejoin="round"/>
<text x="497.08" y="204.40" font-family='"Liberation Sans", sans-serif' font-size="11.6" fill="#111">0</text>
<text x="540.00" y="204.40" font-family='"Liberation Sans", sans-serif' font-size="11.6" fill="#111">20</text>
<text x="444.5" y="221.20" text-anchor="middle" font-family='"Liberation Sans", sans-serif' font-size="15.2" fill="#111">Lag (month)</text>
<text transform="translate(297.2,107.30) rotate(-90)" text-anchor="middle" font-family='"Liberation Sans", sans-serif' font-size="15" fill="#111">correlation</text>
<text x="328.3" y="15.60" font-family='"Liberation Sans", sans-serif' font-size="17" font-weight="bold" fill="#111">(b)</text>
<clipPath id="cl1"><rect x="42.10" y="258.20" width="212.10" height="164.00"/></clipPath>
<clipPath id="cr1"><rect x="329.20" y="258.20" width="237.00" height="164.00"/></clipPath>
<line x1="65.67" y1="257.55" x2="65.67" y2="422.20" stroke="#1c1c1c" stroke-width="1.3" stroke-dasharray="1.30 4.367"/>
<line x1="112.80" y1="257.55" x2="112.80" y2="422.20" stroke="#1c1c1c" stroke-width="1.3" stroke-dasharray="1.30 4.367"/>
<line x1="159.93" y1="257.55" x2="159.93" y2="422.20" stroke="#1c1c1c" stroke-width="1.3" stroke-dasharray="1.30 4.367"/>
<line x1="207.07" y1="257.55" x2="207.07" y2="422.20" stroke="#1c1c1c" stroke-width="1.3" stroke-dasharray="1.30 4.367"/>
<line x1="41.06" y1="389.40" x2="254.20" y2="389.40" stroke="#1c1c1c" stroke-width="1.3" stroke-dasharray="1.30 4.290"/>
<line x1="41.06" y1="356.60" x2="254.20" y2="356.60" stroke="#1c1c1c" stroke-width="1.3" stroke-dasharray="1.30 4.290"/>
<line x1="41.06" y1="323.80" x2="254.20" y2="323.80" stroke="#1c1c1c" stroke-width="1.3" stroke-dasharray="1.30 4.290"/>
<line x1="41.06" y1="291.00" x2="254.20" y2="291.00" stroke="#1c1c1c" stroke-width="1.3" stroke-dasharray="1.30 4.290"/>
<g clip-path="url(#cl1)">
<path d="M47.50,310.00 C48.08,312.17 49.85,318.83 51.00,323.00 C52.15,327.17 53.45,332.50 54.40,335.00 C55.35,337.50 55.93,337.25 56.70,338.00 C57.47,338.75 58.22,344.08 59.00,339.50 C59.78,334.92 60.52,311.92 61.40,310.50 C62.28,309.08 63.33,324.42 64.30,331.00 C65.27,337.58 66.43,345.50 67.20,350.00 C67.97,354.50 68.13,359.75 68.90,358.00 C69.67,356.25 70.73,343.55 71.80,339.50 C72.87,335.45 74.15,336.22 75.30,333.70 C76.45,331.18 77.73,323.85 78.70,324.40 C79.67,324.95 80.32,332.73 81.10,337.00 C81.88,341.27 82.73,347.50 83.40,350.00 C84.07,352.50 84.50,352.83 85.10,352.00 C85.70,351.17 86.32,344.20 87.00,345.00 C87.68,345.80 88.83,354.83 89.20,356.80" fill="none" stroke="#22f500" stroke-width="3.00" stroke-linejoin="round" stroke-linecap="butt"/>
<path d="M47.50,312.00 C48.27,314.83 50.75,326.00 52.10,329.00 C53.45,332.00 54.62,328.67 55.60,330.00 C56.58,331.33 57.23,336.77 58.00,337.00 C58.77,337.23 59.35,333.70 60.20,331.40 C61.05,329.10 62.23,323.98 63.10,323.20 C63.97,322.42 64.67,323.90 65.40,326.70 C66.13,329.50 66.82,335.95 67.50,340.00 C68.18,344.05 68.88,348.00 69.50,351.00 C70.12,354.00 70.62,358.17 71.20,358.00 C71.78,357.83 72.28,353.00 73.00,350.00 C73.72,347.00 74.67,343.33 75.50,340.00 C76.33,336.67 77.17,332.00 78.00,330.00 C78.83,328.00 79.67,329.25 80.50,328.00 C81.33,326.75 82.23,323.50 83.00,322.50 C83.77,321.50 84.45,319.17 85.10,322.00 C85.75,324.83 86.25,334.83 86.90,339.50 C87.55,344.17 88.43,349.08 89.00,350.00 C89.57,350.92 90.08,345.83 90.30,345.00" fill="none" stroke="#22f500" stroke-width="3.00" stroke-linejoin="round" stroke-linecap="butt"/>
<path d="M47.80,316.00 C48.17,317.67 49.13,322.33 50.00,326.00 C50.87,329.67 52.08,335.67 53.00,338.00 C53.92,340.33 54.67,340.33 55.50,340.00 C56.33,339.67 57.25,337.83 58.00,336.00 C58.75,334.17 59.33,332.00 60.00,329.00 C60.67,326.00 61.33,318.83 62.00,318.00 C62.67,317.17 63.33,320.67 64.00,324.00 C64.67,327.33 65.33,333.67 66.00,338.00 C66.67,342.33 67.23,347.25 68.00,350.00 C68.77,352.75 69.85,355.17 70.60,354.50 C71.35,353.83 71.93,348.75 72.50,346.00 C73.07,343.25 73.42,340.67 74.00,338.00 C74.58,335.33 75.25,331.83 76.00,330.00 C76.75,328.17 77.67,326.50 78.50,327.00 C79.33,327.50 80.25,330.50 81.00,333.00 C81.75,335.50 82.33,339.83 83.00,342.00 C83.67,344.17 84.25,346.67 85.00,346.00 C85.75,345.33 86.67,337.83 87.50,338.00 C88.33,338.17 89.58,345.50 90.00,347.00" fill="none" stroke="#22f500" stroke-width="3.00" stroke-linejoin="round" stroke-linecap="butt"/>
<path d="M95.50,306.00 C95.83,304.43 96.78,294.27 97.50,296.60 C98.22,298.93 99.03,312.65 99.80,320.00 C100.57,327.35 101.42,336.10 102.10,340.70 C102.78,345.30 103.12,350.12 103.90,347.60 C104.68,345.08 105.93,329.87 106.80,325.60 C107.67,321.33 108.33,323.93 109.10,322.00 C109.87,320.07 110.63,316.33 111.40,314.00 C112.17,311.67 113.02,309.55 113.70,308.00 C114.38,306.45 114.87,303.03 115.50,304.70 C116.13,306.37 116.92,313.57 117.50,318.00 C118.08,322.43 118.37,326.00 119.00,331.30 C119.63,336.60 120.73,345.95 121.30,349.80 C121.87,353.65 122.02,356.53 122.40,354.40 C122.78,352.27 123.02,340.27 123.60,337.00 C124.18,333.73 125.20,336.80 125.90,334.80 C126.60,332.80 127.22,327.70 127.80,325.00 C128.38,322.30 128.75,316.60 129.40,318.60 C130.05,320.60 130.93,331.80 131.70,337.00 C132.47,342.20 133.33,347.08 134.00,349.80 C134.67,352.52 135.22,353.68 135.70,353.30 C136.18,352.92 136.70,348.47 136.90,347.50" fill="none" stroke="#22f500" stroke-width="3.00" stroke-linejoin="round" stroke-linecap="butt"/>
<path d="M96.00,312.00 C96.43,311.33 97.85,306.00 98.60,308.00 C99.35,310.00 99.85,319.00 100.50,324.00 C101.15,329.00 101.65,334.83 102.50,338.00 C103.35,341.17 104.70,343.17 105.60,343.00 C106.50,342.83 107.25,338.50 107.90,337.00 C108.55,335.50 108.92,334.55 109.50,334.00 C110.08,333.45 110.80,332.97 111.40,333.70 C112.00,334.43 112.50,339.02 113.10,338.40 C113.70,337.78 114.43,332.73 115.00,330.00 C115.57,327.27 115.92,321.00 116.50,322.00 C117.08,323.00 117.83,331.83 118.50,336.00 C119.17,340.17 119.83,346.33 120.50,347.00 C121.17,347.67 121.83,341.67 122.50,340.00 C123.17,338.33 123.75,336.67 124.50,337.00 C125.25,337.33 126.17,344.00 127.00,342.00 C127.83,340.00 128.83,328.67 129.50,325.00 C130.17,321.33 130.42,317.83 131.00,320.00 C131.58,322.17 132.33,332.67 133.00,338.00 C133.67,343.33 134.33,350.00 135.00,352.00 C135.67,354.00 136.67,350.33 137.00,350.00" fill="none" stroke="#22f500" stroke-width="3.00" stroke-linejoin="round" stroke-linecap="butt"/>
<path d="M96.50,318.00 C96.83,315.33 97.75,300.00 98.50,302.00 C99.25,304.00 100.25,323.00 101.00,330.00 C101.75,337.00 102.33,342.67 103.00,344.00 C103.67,345.33 104.33,341.17 105.00,338.00 C105.67,334.83 106.33,328.33 107.00,325.00 C107.67,321.67 108.33,318.50 109.00,318.00 C109.67,317.50 110.42,319.50 111.00,322.00 C111.58,324.50 112.00,333.33 112.50,333.00 C113.00,332.67 113.42,323.83 114.00,320.00 C114.58,316.17 115.33,309.67 116.00,310.00 C116.67,310.33 117.33,317.00 118.00,322.00 C118.67,327.00 119.33,335.33 120.00,340.00 C120.67,344.67 121.33,348.00 122.00,350.00 C122.67,352.00 123.33,353.00 124.00,352.00 C124.67,351.00 125.33,347.67 126.00,344.00 C126.67,340.33 127.33,333.67 128.00,330.00 C128.67,326.33 129.33,320.00 130.00,322.00 C130.67,324.00 131.25,336.67 132.00,342.00 C132.75,347.33 133.67,353.50 134.50,354.00 C135.33,354.50 136.58,346.50 137.00,345.00" fill="none" stroke="#22f500" stroke-width="3.00" stroke-linejoin="round" stroke-linecap="butt"/>
<path d="M142.30,314.00 C142.78,310.72 144.42,297.97 145.20,294.30 C145.98,290.63 146.45,289.38 147.00,292.00 C147.55,294.62 148.12,303.45 148.50,310.00 C148.88,316.55 148.98,324.67 149.30,331.30 C149.62,337.93 150.12,346.35 150.40,349.80 C150.68,353.25 150.62,353.53 151.00,352.00 C151.38,350.47 152.03,346.37 152.70,340.60 C153.37,334.83 154.37,319.50 155.00,317.40 C155.63,315.30 155.92,323.73 156.50,328.00 C157.08,332.27 157.87,340.17 158.50,343.00 C159.13,345.83 159.72,350.23 160.30,345.00 C160.88,339.77 161.53,310.03 162.00,311.60 C162.47,313.17 162.82,346.33 163.10,354.40 C163.38,362.47 163.30,361.57 163.70,360.00 C164.10,358.43 164.68,351.33 165.50,345.00 C166.32,338.67 167.88,320.83 168.60,322.00 C169.32,323.17 169.22,349.28 169.80,352.00 C170.38,354.72 171.13,341.75 172.10,338.30 C173.07,334.85 174.62,333.02 175.60,331.30 C176.58,329.58 177.10,329.22 178.00,328.00 C178.90,326.78 179.85,325.77 181.00,324.00 C182.15,322.23 184.25,318.50 184.90,317.40" fill="none" stroke="#22f500" stroke-width="3.00" stroke-linejoin="round" stroke-linecap="butt"/>
<path d="M142.50,318.00 C142.83,315.50 143.83,306.67 144.50,303.00 C145.17,299.33 145.83,293.17 146.50,296.00 C147.17,298.83 147.92,312.67 148.50,320.00 C149.08,327.33 149.48,336.77 150.00,340.00 C150.52,343.23 150.93,339.07 151.60,339.40 C152.27,339.73 153.03,341.40 154.00,342.00 C154.97,342.60 156.40,343.33 157.40,343.00 C158.40,342.67 159.15,341.33 160.00,340.00 C160.85,338.67 161.83,336.67 162.50,335.00 C163.17,333.33 163.42,329.17 164.00,330.00 C164.58,330.83 165.33,337.00 166.00,340.00 C166.67,343.00 167.33,347.17 168.00,348.00 C168.67,348.83 169.33,346.33 170.00,345.00 C170.67,343.67 171.17,341.50 172.00,340.00 C172.83,338.50 174.00,337.17 175.00,336.00 C176.00,334.83 177.00,334.00 178.00,333.00 C179.00,332.00 179.95,329.50 181.00,330.00 C182.05,330.50 183.75,335.00 184.30,336.00" fill="none" stroke="#22f500" stroke-width="3.00" stroke-linejoin="round" stroke-linecap="butt"/>
<path d="M143.00,322.00 C143.33,320.00 144.25,313.67 145.00,310.00 C145.75,306.33 146.75,297.50 147.50,300.00 C148.25,302.50 148.92,317.17 149.50,325.00 C150.08,332.83 150.42,343.67 151.00,347.00 C151.58,350.33 152.25,347.83 153.00,345.00 C153.75,342.17 154.75,331.17 155.50,330.00 C156.25,328.83 156.83,335.33 157.50,338.00 C158.17,340.67 158.83,347.33 159.50,346.00 C160.17,344.67 160.92,334.67 161.50,330.00 C162.08,325.33 162.42,317.17 163.00,318.00 C163.58,318.83 164.33,330.17 165.00,335.00 C165.67,339.83 166.33,346.17 167.00,347.00 C167.67,347.83 168.33,342.00 169.00,340.00 C169.67,338.00 170.25,334.17 171.00,335.00 C171.75,335.83 172.67,344.17 173.50,345.00 C174.33,345.83 175.08,342.50 176.00,340.00 C176.92,337.50 178.00,332.50 179.00,330.00 C180.00,327.50 181.08,325.00 182.00,325.00 C182.92,325.00 184.08,329.17 184.50,330.00" fill="none" stroke="#22f500" stroke-width="3.00" stroke-linejoin="round" stroke-linecap="butt"/>
<path d="M189.50,323.00 C190.08,322.50 191.85,321.70 193.00,320.00 C194.15,318.30 195.57,311.97 196.40,312.80 C197.23,313.63 197.42,319.97 198.00,325.00 C198.58,330.03 199.20,337.67 199.90,343.00 C200.60,348.33 201.62,354.10 202.20,357.00 C202.78,359.90 202.93,362.40 203.40,360.40 C203.87,358.40 204.57,351.20 205.00,345.00 C205.43,338.80 205.50,328.70 206.00,323.20 C206.50,317.70 207.17,315.37 208.00,312.00 C208.83,308.63 209.88,305.57 211.00,303.00 C212.12,300.43 213.87,293.77 214.70,296.60 C215.53,299.43 215.52,309.57 216.00,320.00 C216.48,330.43 217.10,357.53 217.60,359.20 C218.10,360.87 218.52,339.08 219.00,330.00 C219.48,320.92 220.00,306.37 220.50,304.70 C221.00,303.03 221.42,313.28 222.00,320.00 C222.58,326.72 223.38,340.78 224.00,345.00 C224.62,349.22 225.12,347.80 225.70,345.30 C226.28,342.80 226.92,331.38 227.50,330.00 C228.08,328.62 228.63,333.67 229.20,337.00 C229.77,340.33 230.62,347.83 230.90,350.00" fill="none" stroke="#22f500" stroke-width="3.00" stroke-linejoin="round" stroke-linecap="butt"/>
<path d="M189.50,330.00 C189.92,329.50 191.17,326.67 192.00,327.00 C192.83,327.33 193.57,330.68 194.50,332.00 C195.43,333.32 196.70,334.03 197.60,334.90 C198.50,335.77 199.25,338.35 199.90,337.20 C200.55,336.05 200.92,330.90 201.50,328.00 C202.08,325.10 202.73,318.63 203.40,319.80 C204.07,320.97 204.87,331.13 205.50,335.00 C206.13,338.87 206.53,338.58 207.20,343.00 C207.87,347.42 208.78,361.17 209.50,361.50 C210.22,361.83 210.92,350.25 211.50,345.00 C212.08,339.75 212.42,334.50 213.00,330.00 C213.58,325.50 214.33,318.83 215.00,318.00 C215.67,317.17 216.33,320.50 217.00,325.00 C217.67,329.50 218.33,339.67 219.00,345.00 C219.67,350.33 220.42,357.83 221.00,357.00 C221.58,356.17 221.92,347.17 222.50,340.00 C223.08,332.83 223.83,315.67 224.50,314.00 C225.17,312.33 225.83,324.83 226.50,330.00 C227.17,335.17 227.75,342.83 228.50,345.00 C229.25,347.17 230.58,343.33 231.00,343.00" fill="none" stroke="#22f500" stroke-width="3.00" stroke-linejoin="round" stroke-linecap="butt"/>
<path d="M190.00,336.00 C190.50,335.50 192.17,335.33 193.00,333.00 C193.83,330.67 194.33,324.50 195.00,322.00 C195.67,319.50 196.33,316.67 197.00,318.00 C197.67,319.33 198.33,326.33 199.00,330.00 C199.67,333.67 200.33,339.67 201.00,340.00 C201.67,340.33 202.33,332.33 203.00,332.00 C203.67,331.67 204.17,336.55 205.00,338.00 C205.83,339.45 207.10,341.80 208.00,340.70 C208.90,339.60 209.77,332.02 210.40,331.40 C211.03,330.78 211.20,335.57 211.80,337.00 C212.40,338.43 213.30,339.83 214.00,340.00 C214.70,340.17 215.40,338.50 216.00,338.00 C216.60,337.50 217.02,339.17 217.60,337.00 C218.18,334.83 218.85,328.67 219.50,325.00 C220.15,321.33 220.83,314.17 221.50,315.00 C222.17,315.83 222.83,324.17 223.50,330.00 C224.17,335.83 224.83,348.33 225.50,350.00 C226.17,351.67 226.83,342.50 227.50,340.00 C228.17,337.50 228.92,335.00 229.50,335.00 C230.08,335.00 230.75,339.17 231.00,340.00" fill="none" stroke="#22f500" stroke-width="3.00" stroke-linejoin="round" stroke-linecap="butt"/>
<path d="M42.10,318.80 C42.30,316.75 42.63,310.35 43.30,306.50 C43.97,302.65 45.23,296.48 46.10,295.70 C46.97,294.92 47.78,298.90 48.50,301.80 C49.22,304.70 49.45,310.43 50.40,313.10 C51.35,315.77 53.27,316.85 54.20,317.80 C55.13,318.75 55.22,319.90 56.00,318.80 C56.78,317.70 57.72,314.03 58.90,311.20 C60.08,308.37 61.93,302.73 63.10,301.80 C64.27,300.87 65.03,303.25 65.90,305.60 C66.77,307.95 67.50,312.22 68.30,315.90 C69.10,319.58 69.63,327.40 70.70,327.70 C71.77,328.00 73.38,324.15 74.70,317.70 C76.02,311.25 77.53,290.75 78.60,289.00 C79.67,287.25 80.20,299.33 81.10,307.20 C82.00,315.07 82.73,334.27 84.00,336.20 C85.27,338.13 87.25,319.18 88.70,318.80 C90.15,318.42 91.48,334.83 92.70,333.90 C93.92,332.97 94.95,318.42 96.00,313.20 C97.05,307.98 98.00,304.10 99.00,302.60 C100.00,301.10 100.73,301.88 102.00,304.20 C103.27,306.52 105.27,316.18 106.60,316.50 C107.93,316.82 108.85,308.32 110.00,306.10 C111.15,303.88 112.43,302.63 113.50,303.20 C114.57,303.77 115.43,307.48 116.40,309.50 C117.37,311.52 118.33,315.30 119.30,315.30 C120.27,315.30 121.03,315.28 122.20,309.50 C123.37,303.72 125.03,280.98 126.30,280.60 C127.57,280.22 128.65,300.43 129.80,307.20 C130.95,313.97 132.08,318.25 133.20,321.20 C134.32,324.15 135.35,325.30 136.50,324.90 C137.65,324.50 139.00,321.00 140.10,318.80 C141.20,316.60 142.27,315.08 143.10,311.70 C143.93,308.32 144.33,302.72 145.10,298.50 C145.87,294.28 146.85,286.73 147.70,286.40 C148.55,286.07 149.45,291.10 150.20,296.50 C150.95,301.90 151.52,311.88 152.20,318.80 C152.88,325.72 153.45,337.15 154.30,338.00 C155.15,338.85 156.47,328.28 157.30,323.90 C158.13,319.52 158.55,314.92 159.30,311.70 C160.05,308.48 160.75,306.32 161.80,304.60 C162.85,302.88 164.38,304.35 165.60,301.40 C166.82,298.45 168.03,287.67 169.10,286.90 C170.17,286.13 171.23,293.80 172.00,296.80 C172.77,299.80 172.93,304.32 173.70,304.90 C174.47,305.48 175.63,300.00 176.60,300.30 C177.57,300.60 178.53,307.08 179.50,306.70 C180.47,306.32 181.52,298.68 182.40,298.00 C183.28,297.32 184.02,299.32 184.80,302.60 C185.58,305.88 186.53,314.70 187.10,317.70 C187.67,320.70 187.33,321.38 188.20,320.60 C189.07,319.82 191.23,317.73 192.30,313.00 C193.37,308.27 193.83,298.57 194.60,292.20 C195.37,285.83 196.22,274.80 196.90,274.80 C197.58,274.80 198.02,283.32 198.70,292.20 C199.38,301.08 200.43,321.35 201.00,328.10 C201.57,334.85 201.50,332.70 202.10,332.70 C202.70,332.70 203.78,329.07 204.60,328.10 C205.42,327.13 206.03,328.83 207.00,326.90 C207.97,324.97 209.25,319.20 210.40,316.50 C211.55,313.80 212.73,312.73 213.90,310.70 C215.07,308.67 216.33,307.48 217.40,304.30 C218.47,301.12 219.43,292.47 220.30,291.60 C221.17,290.73 221.83,296.60 222.60,299.10 C223.37,301.60 224.03,306.02 224.90,306.60 C225.77,307.18 226.83,303.65 227.80,302.60 C228.77,301.55 229.83,299.33 230.70,300.30 C231.57,301.27 232.13,306.28 233.00,308.40 C233.87,310.52 235.13,313.58 235.90,313.00 C236.67,312.42 237.02,306.93 237.60,304.90 C238.18,302.87 238.72,299.65 239.40,300.80 C240.08,301.95 241.03,308.03 241.70,311.80 C242.37,315.57 242.87,320.58 243.40,323.40 C243.93,326.22 244.32,328.88 244.90,328.70 C245.48,328.52 246.32,324.33 246.90,322.30 C247.48,320.27 248.15,317.47 248.40,316.50" fill="none" stroke="#000" stroke-width="3.50" stroke-linejoin="round" stroke-linecap="butt"/>
</g>
<line x1="42.10" y1="422.20" x2="45.30" y2="422.20" stroke="#222" stroke-width="1.35"/>
<line x1="42.10" y1="405.80" x2="45.30" y2="405.80" stroke="#222" stroke-width="1.35"/>
<line x1="42.10" y1="389.40" x2="45.30" y2="389.40" stroke="#222" stroke-width="1.35"/>
<line x1="42.10" y1="373.00" x2="45.30" y2="373.00" stroke="#222" stroke-width="1.35"/>
<line x1="42.10" y1="356.60" x2="45.30" y2="356.60" stroke="#222" stroke-width="1.35"/>
<line x1="42.10" y1="340.20" x2="45.30" y2="340.20" stroke="#222" stroke-width="1.35"/>
<line x1="42.10" y1="323.80" x2="45.30" y2="323.80" stroke="#222" stroke-width="1.35"/>
<line x1="42.10" y1="307.40" x2="45.30" y2="307.40" stroke="#222" stroke-width="1.35"/>
<line x1="42.10" y1="291.00" x2="45.30" y2="291.00" stroke="#222" stroke-width="1.35"/>
<line x1="42.10" y1="274.60" x2="45.30" y2="274.60" stroke="#222" stroke-width="1.35"/>
<line x1="42.10" y1="258.20" x2="45.30" y2="258.20" stroke="#222" stroke-width="1.35"/>
<line x1="42.10" y1="422.60" x2="42.10" y2="420.30" stroke="#222" stroke-width="1.35"/>
<line x1="65.67" y1="422.60" x2="65.67" y2="420.30" stroke="#222" stroke-width="1.35"/>
<line x1="89.23" y1="422.60" x2="89.23" y2="420.30" stroke="#222" stroke-width="1.35"/>
<line x1="112.80" y1="422.60" x2="112.80" y2="420.30" stroke="#222" stroke-width="1.35"/>
<line x1="136.37" y1="422.60" x2="136.37" y2="420.30" stroke="#222" stroke-width="1.35"/>
<line x1="159.93" y1="422.60" x2="159.93" y2="420.30" stroke="#222" stroke-width="1.35"/>
<line x1="183.50" y1="422.60" x2="183.50" y2="420.30" stroke="#222" stroke-width="1.35"/>
<line x1="207.07" y1="422.60" x2="207.07" y2="420.30" stroke="#222" stroke-width="1.35"/>
<line x1="230.63" y1="422.60" x2="230.63" y2="420.30" stroke="#222" stroke-width="1.35"/>
<line x1="254.20" y1="422.60" x2="254.20" y2="420.30" stroke="#222" stroke-width="1.35"/>
<line x1="41.30" y1="258.20" x2="255.25" y2="258.20" stroke="#2c2c2c" stroke-width="1.7"/>
<line x1="42.10" y1="257.40" x2="42.10" y2="423.30" stroke="#2c2c2c" stroke-width="1.7"/>
<line x1="41.30" y1="422.60" x2="255.25" y2="422.60" stroke="#141414" stroke-width="1.4"/>
<line x1="254.55" y1="257.40" x2="254.55" y2="423.30" stroke="#141414" stroke-width="1.4"/>
<text x="23.70" y="422.90" font-family='"Liberation Sans", sans-serif' font-size="11.6" fill="#111">20</text>
<text x="23.70" y="392.40" font-family='"Liberation Sans", sans-serif' font-size="11.6" fill="#111">22</text>
<text x="23.70" y="359.60" font-family='"Liberation Sans", sans-serif' font-size="11.6" fill="#111">24</text>
<text x="23.70" y="326.80" font-family='"Liberation Sans", sans-serif' font-size="11.6" fill="#111">26</text>
<text x="23.70" y="294.00" font-family='"Liberation Sans", sans-serif' font-size="11.6" fill="#111">28</text>
<text x="23.70" y="263.10" font-family='"Liberation Sans", sans-serif' font-size="11.6" fill="#111">30</text>
<path d="M56.73,437.60 L56.73,429.38 L56.04,429.38 C55.70,430.57 55.15,430.87 54.22,431.03 L54.22,431.71 L55.70,431.71 L55.70,437.60 Z" fill="#111" stroke="#111" stroke-width="0.22" stroke-linejoin="round"/>
<text x="59.22" y="437.60" font-family='"Liberation Sans", sans-serif' font-size="11.6" fill="#111">970</text>
<path d="M103.87,437.60 L103.87,429.38 L103.17,429.38 C102.84,430.57 102.28,430.87 101.35,431.03 L101.35,431.71 L102.84,431.71 L102.84,437.60 Z" fill="#111" stroke="#111" stroke-width="0.22" stroke-linejoin="round"/>
<text x="106.35" y="437.60" font-family='"Liberation Sans", sans-serif' font-size="11.6" fill="#111">980</text>
<path d="M151.00,437.60 L151.00,429.38 L150.31,429.38 C149.97,430.57 149.41,430.87 148.48,431.03 L148.48,431.71 L149.97,431.71 L149.97,437.60 Z" fill="#111" stroke="#111" stroke-width="0.22" stroke-linejoin="round"/>
<text x="153.48" y="437.60" font-family='"Liberation Sans", sans-serif' font-size="11.6" fill="#111">990</text>
<text x="194.17" y="437.60" font-family='"Liberation Sans", sans-serif' font-size="11.6" fill="#111">2000</text>
<text x="241.30" y="437.60" font-family='"Liberation Sans", sans-serif' font-size="11.6" fill="#111">20</text>
<path d="M258.17,437.60 L258.17,429.38 L257.47,429.38 C257.13,430.57 256.58,430.87 255.65,431.03 L255.65,431.71 L257.13,431.71 L257.13,437.60 Z" fill="#111" stroke="#111" stroke-width="0.22" stroke-linejoin="round"/>
<text x="260.65" y="437.60" font-family='"Liberation Sans", sans-serif' font-size="11.6" fill="#111">0</text>
<text x="150.5" y="454.40" text-anchor="middle" font-family='"Liberation Sans", sans-serif' font-size="15" fill="#111">year</text>
<text transform="translate(13.4,341.00) rotate(-90)" text-anchor="middle" font-family='"Liberation Sans", sans-serif' font-size="15.3" fill="#111">SST Niño3.4</text>
<text x="41.9" y="248.80" font-family='"Liberation Sans", sans-serif' font-size="17" font-weight="bold" fill="#111">(c)</text>
<line x1="348.95" y1="257.55" x2="348.95" y2="422.20" stroke="#1c1c1c" stroke-width="1.3" stroke-dasharray="1.30 4.367"/>
<line x1="398.32" y1="257.55" x2="398.32" y2="422.20" stroke="#1c1c1c" stroke-width="1.3" stroke-dasharray="1.30 4.367"/>
<line x1="447.70" y1="257.55" x2="447.70" y2="422.20" stroke="#1c1c1c" stroke-width="1.3" stroke-dasharray="1.30 4.367"/>
<line x1="497.08" y1="257.55" x2="497.08" y2="422.20" stroke="#1c1c1c" stroke-width="1.3" stroke-dasharray="1.30 4.367"/>
<line x1="546.45" y1="257.55" x2="546.45" y2="422.20" stroke="#1c1c1c" stroke-width="1.3" stroke-dasharray="1.30 4.367"/>
<line x1="328.20" y1="381.20" x2="566.20" y2="381.20" stroke="#1c1c1c" stroke-width="1.3" stroke-dasharray="1.30 4.355"/>
<line x1="328.20" y1="340.20" x2="566.20" y2="340.20" stroke="#1c1c1c" stroke-width="1.3" stroke-dasharray="1.30 4.355"/>
<line x1="328.20" y1="299.20" x2="566.20" y2="299.20" stroke="#1c1c1c" stroke-width="1.3" stroke-dasharray="1.30 4.355"/>
<g clip-path="url(#cr1)">
<path d="M329.20,349.63 C330.85,349.83 335.78,350.52 339.07,350.86 C342.37,351.20 344.84,351.68 348.95,351.68 C353.06,351.68 359.98,351.41 363.76,350.86 C367.55,350.31 368.37,349.63 371.66,348.40 C374.95,347.17 379.97,345.39 383.51,343.48 C387.05,341.57 388.53,340.20 392.89,336.92 C397.26,333.64 405.48,327.90 409.68,323.80 C413.88,319.70 415.69,315.60 418.07,312.32 C420.46,309.04 422.19,306.72 424.00,304.12 C425.81,301.52 426.72,299.81 428.94,296.74 C431.16,293.67 435.03,288.40 437.33,285.67 C439.64,282.94 440.79,281.61 442.76,280.34 C444.74,279.07 447.29,278.25 449.18,278.04 C451.07,277.84 452.14,277.88 454.12,279.11 C456.09,280.34 459.06,283.37 461.03,285.42 C463.01,287.47 464.16,288.70 465.97,291.41 C467.78,294.12 470.00,298.04 471.89,301.66 C473.79,305.28 475.43,309.18 477.33,313.14 C479.22,317.10 481.44,321.75 483.25,325.44 C485.06,329.13 485.88,331.45 488.19,335.28 C490.49,339.11 493.54,344.71 497.08,348.40 C500.61,352.09 505.63,355.23 509.42,357.42 C513.20,359.61 515.59,360.29 519.79,361.52 C523.98,362.75 530.16,364.19 534.60,364.80 C539.04,365.42 541.18,365.07 546.45,365.21 C551.72,365.35 562.91,365.55 566.20,365.62" fill="none" stroke="#000" stroke-width="2.80" stroke-linejoin="round" stroke-linecap="butt" stroke-dasharray="9.0 5.8"/>
<path d="M329.20,363.41 C330.85,363.43 335.78,363.61 339.07,363.57 C342.37,363.53 345.25,363.57 348.95,363.16 C352.65,362.75 357.51,361.79 361.29,361.11 C365.08,360.43 367.96,360.02 371.66,359.06 C375.37,358.10 379.97,356.94 383.51,355.37 C387.05,353.80 390.43,351.48 392.89,349.63 C395.36,347.78 395.53,347.92 398.32,344.30 C401.12,340.68 406.72,333.16 409.68,327.90 C412.64,322.64 413.96,317.51 416.10,312.73 C418.24,307.95 420.30,303.91 422.52,299.20 C424.74,294.49 427.21,288.68 429.43,284.44 C431.65,280.20 433.84,277.11 435.85,273.78 C437.86,270.45 439.83,266.82 441.48,264.43 C443.12,262.04 444.52,260.40 445.73,259.43 C446.93,258.46 447.70,258.47 448.69,258.61 C449.68,258.75 450.47,258.60 451.65,260.25 C452.84,261.90 454.23,265.39 455.80,268.53 C457.37,271.68 459.31,275.78 461.08,279.11 C462.85,282.44 464.64,285.38 466.41,288.54 C468.18,291.70 470.04,295.05 471.70,298.05 C473.35,301.06 474.74,303.52 476.34,306.58 C477.93,309.64 479.65,313.10 481.28,316.42 C482.90,319.74 484.47,323.23 486.11,326.51 C487.76,329.79 489.32,333.00 491.15,336.10 C492.98,339.20 495.10,342.52 497.08,345.12 C499.05,347.72 500.94,349.77 503.00,351.68 C505.06,353.59 506.62,355.10 509.42,356.60 C512.22,358.10 515.59,359.61 519.79,360.70 C523.98,361.79 530.16,362.61 534.60,363.16 C539.04,363.71 541.18,363.71 546.45,363.98 C551.72,364.25 562.91,364.66 566.20,364.80" fill="none" stroke="#000" stroke-width="2.00" stroke-linejoin="round" stroke-linecap="butt"/>
<path d="M329.20,373.82 C332.49,373.55 343.68,373.14 348.95,372.18 C354.22,371.22 357.01,370.13 360.80,368.08 C364.59,366.03 368.12,362.75 371.66,359.88 C375.20,357.01 378.49,354.55 382.03,350.86 C385.57,347.17 389.36,342.66 392.89,337.74 C396.43,332.82 399.81,326.53 403.26,321.34 C406.72,316.15 410.18,311.77 413.63,306.58 C417.09,301.39 420.54,294.96 424.00,290.18 C427.46,285.40 431.49,280.61 434.37,277.88 C437.25,275.15 438.89,274.74 441.28,273.78 C443.67,272.82 446.55,272.41 448.69,272.14 C450.83,271.87 452.23,270.91 454.12,272.14 C456.01,273.37 458.19,277.42 460.04,279.52 C461.90,281.62 464.08,283.26 465.23,284.77 C466.38,286.27 464.86,284.63 466.96,288.54 C469.05,292.45 474.28,301.39 477.82,308.22 C481.36,315.05 484.98,323.18 488.19,329.54 C491.40,335.89 493.54,340.47 497.08,346.35 C500.61,352.23 505.63,360.15 509.42,364.80 C513.20,369.45 516.25,371.91 519.79,374.23 C523.33,376.55 527.11,378.54 530.65,378.74 C534.19,378.94 537.56,377.17 541.02,375.46 C544.48,373.75 547.19,371.22 551.39,368.49 C555.58,365.76 563.73,360.63 566.20,359.06" fill="none" stroke="#22f500" stroke-width="2.70" stroke-linejoin="round" stroke-linecap="butt" stroke-dasharray="9.0 5.8"/>
<path d="M329.20,372.18 C331.67,372.25 339.49,372.79 344.01,372.59 C348.54,372.38 352.74,371.84 356.36,370.95 C359.98,370.06 362.86,368.69 365.74,367.26 C368.62,365.82 370.92,364.39 373.64,362.34 C376.35,360.29 378.82,358.38 382.03,354.96 C385.24,351.54 389.36,346.42 392.89,341.84 C396.43,337.26 399.81,332.68 403.26,327.49 C406.72,322.30 411.16,314.77 413.63,310.68 C416.10,306.59 416.30,306.18 418.07,302.97 C419.85,299.76 422.02,295.63 424.30,291.41 C426.57,287.19 429.23,281.87 431.70,277.63 C434.17,273.40 436.94,268.96 439.11,265.99 C441.28,263.02 443.31,261.14 444.74,259.84 C446.17,258.54 446.71,258.20 447.70,258.20 C448.69,258.20 449.28,258.71 450.66,259.84 C452.05,260.97 453.87,262.22 456.00,265.01 C458.12,267.79 460.93,272.59 463.40,276.57 C465.87,280.54 468.65,284.96 470.81,288.87 C472.96,292.78 473.79,294.81 476.34,300.02 C478.89,305.23 482.72,313.59 486.11,320.11 C489.50,326.63 492.80,332.37 496.68,339.13 C500.56,345.90 505.57,355.60 509.42,360.70 C513.27,365.80 516.25,367.67 519.79,369.72 C523.33,371.77 527.11,372.80 530.65,373.00 C534.19,373.20 537.56,372.04 541.02,370.95 C544.48,369.86 547.19,368.83 551.39,366.44 C555.58,364.05 563.73,358.24 566.20,356.60" fill="none" stroke="#22f500" stroke-width="2.90" stroke-linejoin="round" stroke-linecap="butt"/>
</g>
<line x1="329.20" y1="414.00" x2="332.70" y2="414.00" stroke="#222" stroke-width="1.35"/>
<line x1="329.20" y1="405.80" x2="332.70" y2="405.80" stroke="#222" stroke-width="1.35"/>
<line x1="329.20" y1="397.60" x2="332.70" y2="397.60" stroke="#222" stroke-width="1.35"/>
<line x1="329.20" y1="389.40" x2="332.70" y2="389.40" stroke="#222" stroke-width="1.35"/>
<line x1="329.20" y1="373.00" x2="332.70" y2="373.00" stroke="#222" stroke-width="1.35"/>
<line x1="329.20" y1="364.80" x2="332.70" y2="364.80" stroke="#222" stroke-width="1.35"/>
<line x1="329.20" y1="356.60" x2="332.70" y2="356.60" stroke="#222" stroke-width="1.35"/>
<line x1="329.20" y1="348.40" x2="332.70" y2="348.40" stroke="#222" stroke-width="1.35"/>
<line x1="329.20" y1="332.00" x2="332.70" y2="332.00" stroke="#222" stroke-width="1.35"/>
<line x1="329.20" y1="323.80" x2="332.70" y2="323.80" stroke="#222" stroke-width="1.35"/>
<line x1="329.20" y1="315.60" x2="332.70" y2="315.60" stroke="#222" stroke-width="1.35"/>
<line x1="329.20" y1="307.40" x2="332.70" y2="307.40" stroke="#222" stroke-width="1.35"/>
<line x1="329.20" y1="291.00" x2="332.70" y2="291.00" stroke="#222" stroke-width="1.35"/>
<line x1="329.20" y1="282.80" x2="332.70" y2="282.80" stroke="#222" stroke-width="1.35"/>
<line x1="329.20" y1="274.60" x2="332.70" y2="274.60" stroke="#222" stroke-width="1.35"/>
<line x1="329.20" y1="266.40" x2="332.70" y2="266.40" stroke="#222" stroke-width="1.35"/>
<line x1="348.95" y1="422.60" x2="348.95" y2="420.30" stroke="#222" stroke-width="1.35"/>
<line x1="373.64" y1="422.60" x2="373.64" y2="420.30" stroke="#222" stroke-width="1.35"/>
<line x1="398.32" y1="422.60" x2="398.32" y2="420.30" stroke="#222" stroke-width="1.35"/>
<line x1="423.01" y1="422.60" x2="423.01" y2="420.30" stroke="#222" stroke-width="1.35"/>
<line x1="447.70" y1="422.60" x2="447.70" y2="420.30" stroke="#222" stroke-width="1.35"/>
<line x1="472.39" y1="422.60" x2="472.39" y2="420.30" stroke="#222" stroke-width="1.35"/>
<line x1="497.08" y1="422.60" x2="497.08" y2="420.30" stroke="#222" stroke-width="1.35"/>
<line x1="521.76" y1="422.60" x2="521.76" y2="420.30" stroke="#222" stroke-width="1.35"/>
<line x1="546.45" y1="422.60" x2="546.45" y2="420.30" stroke="#222" stroke-width="1.35"/>
<line x1="328.40" y1="258.20" x2="567.05" y2="258.20" stroke="#2c2c2c" stroke-width="1.7"/>
<line x1="329.20" y1="257.40" x2="329.20" y2="423.30" stroke="#2c2c2c" stroke-width="1.7"/>
<line x1="328.40" y1="422.60" x2="567.05" y2="422.60" stroke="#141414" stroke-width="1.4"/>
<line x1="566.35" y1="257.40" x2="566.35" y2="423.30" stroke="#141414" stroke-width="1.4"/>
<path d="M320.92,262.60 L320.92,254.38 L320.22,254.38 C319.89,255.57 319.33,255.87 318.40,256.03 L318.40,256.71 L319.89,256.71 L319.89,262.60 Z" fill="#111" stroke="#111" stroke-width="0.22" stroke-linejoin="round"/>
<text x="307.28" y="302.20" font-family='"Liberation Sans", sans-serif' font-size="11.6" fill="#111">0.5</text>
<text x="316.95" y="343.20" font-family='"Liberation Sans", sans-serif' font-size="11.6" fill="#111">0</text>
<text x="303.41" y="384.20" font-family='"Liberation Sans", sans-serif' font-size="11.6" fill="#111">-0.5</text>
<text x="313.09" y="423.20" font-family='"Liberation Sans", sans-serif' font-size="11.6" fill="#111">-</text>
<path d="M320.92,423.20 L320.92,414.98 L320.22,414.98 C319.89,416.17 319.33,416.47 318.40,416.63 L318.40,417.31 L319.89,417.31 L319.89,423.20 Z" fill="#111" stroke="#111" stroke-width="0.22" stroke-linejoin="round"/>
<text x="340.57" y="437.60" font-family='"Liberation Sans", sans-serif' font-size="11.6" fill="#111">-20</text>
<text x="389.94" y="437.60" font-family='"Liberation Sans", sans-serif' font-size="11.6" fill="#111">-</text>
<path d="M397.77,437.60 L397.77,429.38 L397.08,429.38 C396.74,430.57 396.18,430.87 395.26,431.03 L395.26,431.71 L396.74,431.71 L396.74,437.60 Z" fill="#111" stroke="#111" stroke-width="0.22" stroke-linejoin="round"/>
<text x="400.26" y="437.60" font-family='"Liberation Sans", sans-serif' font-size="11.6" fill="#111">0</text>
<text x="444.48" y="437.60" font-family='"Liberation Sans", sans-serif' font-size="11.6" fill="#111">0</text>
<path d="M494.59,437.60 L494.59,429.38 L493.90,429.38 C493.56,430.57 493.00,430.87 492.08,431.03 L492.08,431.71 L493.56,431.71 L493.56,437.60 Z" fill="#111" stroke="#111" stroke-width="0.22" stroke-linejoin="round"/>
<text x="497.08" y="437.60" font-family='"Liberation Sans", sans-serif' font-size="11.6" fill="#111">0</text>
<text x="540.00" y="437.60" font-family='"Liberation Sans", sans-serif' font-size="11.6" fill="#111">20</text>
<text x="444.5" y="454.40" text-anchor="middle" font-family='"Liberation Sans", sans-serif' font-size="15.2" fill="#111">Lag (month)</text>
<text transform="translate(297.2,340.50) rotate(-90)" text-anchor="middle" font-family='"Liberation Sans", sans-serif' font-size="15" fill="#111">correlation</text>
<text x="328.3" y="248.80" font-family='"Liberation Sans", sans-serif' font-size="17" font-weight="bold" fill="#111">(d)</text>
<clipPath id="cl2"><rect x="42.10" y="490.50" width="212.10" height="164.00"/></clipPath>
<clipPath id="cr2"><rect x="329.20" y="490.50" width="237.00" height="164.00"/></clipPath>
<line x1="65.67" y1="489.85" x2="65.67" y2="654.50" stroke="#1c1c1c" stroke-width="1.3" stroke-dasharray="1.30 4.367"/>
<line x1="112.80" y1="489.85" x2="112.80" y2="654.50" stroke="#1c1c1c" stroke-width="1.3" stroke-dasharray="1.30 4.367"/>
<line x1="159.93" y1="489.85" x2="159.93" y2="654.50" stroke="#1c1c1c" stroke-width="1.3" stroke-dasharray="1.30 4.367"/>
<line x1="207.07" y1="489.85" x2="207.07" y2="654.50" stroke="#1c1c1c" stroke-width="1.3" stroke-dasharray="1.30 4.367"/>
<line x1="41.06" y1="621.70" x2="254.20" y2="621.70" stroke="#1c1c1c" stroke-width="1.3" stroke-dasharray="1.30 4.290"/>
<line x1="41.06" y1="588.90" x2="254.20" y2="588.90" stroke="#1c1c1c" stroke-width="1.3" stroke-dasharray="1.30 4.290"/>
<line x1="41.06" y1="556.10" x2="254.20" y2="556.10" stroke="#1c1c1c" stroke-width="1.3" stroke-dasharray="1.30 4.290"/>
<line x1="41.06" y1="523.30" x2="254.20" y2="523.30" stroke="#1c1c1c" stroke-width="1.3" stroke-dasharray="1.30 4.290"/>
<g clip-path="url(#cl2)">
<path d="M47.50,548.00 C47.95,549.50 49.37,558.33 50.20,557.00 C51.03,555.67 51.70,546.33 52.50,540.00 C53.30,533.67 54.25,521.67 55.00,519.00 C55.75,516.33 56.32,518.67 57.00,524.00 C57.68,529.33 58.27,542.50 59.10,551.00 C59.93,559.50 61.02,572.67 62.00,575.00 C62.98,577.33 64.00,569.50 65.00,565.00 C66.00,560.50 67.00,552.83 68.00,548.00 C69.00,543.17 70.00,540.33 71.00,536.00 C72.00,531.67 73.08,526.00 74.00,522.00 C74.92,518.00 75.63,514.00 76.50,512.00 C77.37,510.00 78.37,507.00 79.20,510.00 C80.03,513.00 80.57,521.50 81.50,530.00 C82.43,538.50 83.73,554.17 84.80,561.00 C85.87,567.83 86.95,572.83 87.90,571.00 C88.85,569.17 89.57,557.67 90.50,550.00 C91.43,542.33 92.58,531.00 93.50,525.00 C94.42,519.00 95.20,516.17 96.00,514.00 C96.80,511.83 97.55,511.00 98.30,512.00 C99.05,513.00 99.72,514.50 100.50,520.00 C101.28,525.50 101.95,536.22 103.00,545.00 C104.05,553.78 105.63,571.03 106.80,572.70 C107.97,574.37 108.97,562.12 110.00,555.00 C111.03,547.88 111.88,537.73 113.00,530.00 C114.12,522.27 115.70,511.60 116.70,508.60 C117.70,505.60 118.20,508.43 119.00,512.00 C119.80,515.57 120.65,520.92 121.50,530.00 C122.35,539.08 122.95,558.57 124.10,566.50 C125.25,574.43 127.25,577.85 128.40,577.60 C129.55,577.35 130.07,571.27 131.00,565.00 C131.93,558.73 133.00,546.67 134.00,540.00 C135.00,533.33 136.00,526.67 137.00,525.00 C138.00,523.33 139.22,528.00 140.00,530.00 C140.78,532.00 141.12,538.67 141.70,537.00 C142.28,535.33 142.88,524.83 143.50,520.00 C144.12,515.17 144.73,508.00 145.40,508.00 C146.07,508.00 146.65,513.00 147.50,520.00 C148.35,527.00 149.42,541.02 150.50,550.00 C151.58,558.98 152.92,571.90 154.00,573.90 C155.08,575.90 155.77,566.52 157.00,562.00 C158.23,557.48 160.15,552.47 161.40,546.80 C162.65,541.13 163.47,533.13 164.50,528.00 C165.53,522.87 166.77,515.67 167.60,516.00 C168.43,516.33 168.88,522.40 169.50,530.00 C170.12,537.60 170.60,554.10 171.30,561.60 C172.00,569.10 172.92,575.27 173.70,575.00 C174.48,574.73 175.18,564.33 176.00,560.00 C176.82,555.67 177.65,552.83 178.60,549.00 C179.55,545.17 180.77,533.67 181.70,537.00 C182.63,540.33 183.78,563.67 184.20,569.00" fill="none" stroke="#1cb1ec" stroke-width="3.00" stroke-linejoin="round" stroke-linecap="butt"/>
<path d="M48.00,556.00 C48.50,555.00 50.08,554.33 51.00,550.00 C51.92,545.67 52.63,535.38 53.50,530.00 C54.37,524.62 54.98,520.13 56.20,517.70 C57.42,515.27 59.67,511.68 60.80,515.40 C61.93,519.12 62.23,529.77 63.00,540.00 C63.77,550.23 64.42,570.47 65.40,576.80 C66.38,583.13 67.88,581.63 68.90,578.00 C69.92,574.37 70.57,562.17 71.50,555.00 C72.43,547.83 73.58,540.83 74.50,535.00 C75.42,529.17 76.08,521.67 77.00,520.00 C77.92,518.33 79.00,520.33 80.00,525.00 C81.00,529.67 82.00,543.00 83.00,548.00 C84.00,553.00 84.98,560.33 86.00,555.00 C87.02,549.67 88.18,520.17 89.10,516.00 C90.02,511.83 90.60,522.67 91.50,530.00 C92.40,537.33 93.58,555.83 94.50,560.00 C95.42,564.17 96.08,560.00 97.00,555.00 C97.92,550.00 99.17,536.92 100.00,530.00 C100.83,523.08 101.25,512.67 102.00,513.50 C102.75,514.33 103.48,526.17 104.50,535.00 C105.52,543.83 107.02,564.83 108.10,566.50 C109.18,568.17 110.02,552.75 111.00,545.00 C111.98,537.25 112.92,525.83 114.00,520.00 C115.08,514.17 116.23,512.00 117.50,510.00 C118.77,508.00 120.52,503.83 121.60,508.00 C122.68,512.17 123.18,526.33 124.00,535.00 C124.82,543.67 125.67,554.50 126.50,560.00 C127.33,565.50 128.17,574.30 129.00,568.00 C129.83,561.70 130.67,526.03 131.50,522.20 C132.33,518.37 133.08,538.03 134.00,545.00 C134.92,551.97 136.00,564.00 137.00,564.00 C138.00,564.00 138.97,552.33 140.00,545.00 C141.03,537.67 142.20,525.50 143.20,520.00 C144.20,514.50 144.92,512.87 146.00,512.00 C147.08,511.13 148.70,509.30 149.70,514.80 C150.70,520.30 151.12,535.80 152.00,545.00 C152.88,554.20 154.00,568.33 155.00,570.00 C156.00,571.67 157.00,560.00 158.00,555.00 C159.00,550.00 160.00,543.33 161.00,540.00 C162.00,536.67 163.00,535.33 164.00,535.00 C165.00,534.67 166.00,536.33 167.00,538.00 C168.00,539.67 169.00,543.00 170.00,545.00 C171.00,547.00 172.00,550.83 173.00,550.00 C174.00,549.17 175.00,542.00 176.00,540.00 C177.00,538.00 178.00,538.00 179.00,538.00 C180.00,538.00 181.17,538.17 182.00,540.00 C182.83,541.83 183.67,547.50 184.00,549.00" fill="none" stroke="#1cb1ec" stroke-width="3.00" stroke-linejoin="round" stroke-linecap="butt"/>
<path d="M49.00,541.00 C49.33,542.33 50.17,550.50 51.00,549.00 C51.83,547.50 52.92,536.50 54.00,532.00 C55.08,527.50 56.65,524.57 57.50,522.00 C58.35,519.43 58.43,513.60 59.10,516.60 C59.77,519.60 60.68,531.93 61.50,540.00 C62.32,548.07 63.08,559.17 64.00,565.00 C64.92,570.83 66.00,572.67 67.00,575.00 C68.00,577.33 69.20,585.45 70.00,579.00 C70.80,572.55 71.13,542.80 71.80,536.30 C72.47,529.80 73.13,536.88 74.00,540.00 C74.87,543.12 75.92,555.00 77.00,555.00 C78.08,555.00 79.42,545.83 80.50,540.00 C81.58,534.17 82.50,521.17 83.50,520.00 C84.50,518.83 85.58,526.33 86.50,533.00 C87.42,539.67 88.08,554.17 89.00,560.00 C89.92,565.83 91.00,570.50 92.00,568.00 C93.00,565.50 94.00,552.17 95.00,545.00 C96.00,537.83 97.00,529.17 98.00,525.00 C99.00,520.83 100.08,516.67 101.00,520.00 C101.92,523.33 102.67,537.00 103.50,545.00 C104.33,553.00 105.08,565.50 106.00,568.00 C106.92,570.50 108.00,565.50 109.00,560.00 C110.00,554.50 111.00,542.50 112.00,535.00 C113.00,527.50 114.00,518.50 115.00,515.00 C116.00,511.50 117.00,509.83 118.00,514.00 C119.00,518.17 120.08,532.33 121.00,540.00 C121.92,547.67 122.67,555.17 123.50,560.00 C124.33,564.83 125.08,571.50 126.00,569.00 C126.92,566.50 128.08,551.50 129.00,545.00 C129.92,538.50 130.58,529.17 131.50,530.00 C132.42,530.83 133.50,548.33 134.50,550.00 C135.50,551.67 136.58,544.17 137.50,540.00 C138.42,535.83 139.17,529.17 140.00,525.00 C140.83,520.83 141.67,514.17 142.50,515.00 C143.33,515.83 144.08,522.50 145.00,530.00 C145.92,537.50 147.00,554.17 148.00,560.00 C149.00,565.83 150.00,566.33 151.00,565.00 C152.00,563.67 153.00,555.33 154.00,552.00 C155.00,548.67 156.00,547.33 157.00,545.00 C158.00,542.67 159.00,538.83 160.00,538.00 C161.00,537.17 162.00,538.33 163.00,540.00 C164.00,541.67 165.00,545.50 166.00,548.00 C167.00,550.50 168.00,555.50 169.00,555.00 C170.00,554.50 171.00,548.33 172.00,545.00 C173.00,541.67 174.00,535.00 175.00,535.00 C176.00,535.00 177.00,541.67 178.00,545.00 C179.00,548.33 180.00,554.00 181.00,555.00 C182.00,556.00 183.50,551.67 184.00,551.00" fill="none" stroke="#1cb1ec" stroke-width="3.00" stroke-linejoin="round" stroke-linecap="butt"/>
<path d="M189.00,553.00 C189.58,547.00 191.42,518.17 192.50,517.00 C193.58,515.83 194.42,536.33 195.50,546.00 C196.58,555.67 197.92,567.00 199.00,575.00 C200.08,583.00 201.17,595.67 202.00,594.00 C202.83,592.33 203.25,574.83 204.00,565.00 C204.75,555.17 205.67,542.83 206.50,535.00 C207.33,527.17 208.25,521.00 209.00,518.00 C209.75,515.00 210.25,512.50 211.00,517.00 C211.75,521.50 212.67,536.50 213.50,545.00 C214.33,553.50 215.17,568.00 216.00,568.00 C216.83,568.00 217.67,553.00 218.50,545.00 C219.33,537.00 220.02,525.67 221.00,520.00 C221.98,514.33 223.40,507.67 224.40,511.00 C225.40,514.33 226.15,530.83 227.00,540.00 C227.85,549.17 228.78,561.33 229.50,566.00 C230.22,570.67 231.00,567.67 231.30,568.00" fill="none" stroke="#1cb1ec" stroke-width="3.00" stroke-linejoin="round" stroke-linecap="butt"/>
<path d="M189.00,535.00 C189.42,533.33 190.67,523.33 191.50,525.00 C192.33,526.67 193.08,539.83 194.00,545.00 C194.92,550.17 196.00,555.50 197.00,556.00 C198.00,556.50 198.93,550.08 200.00,548.00 C201.07,545.92 202.40,542.33 203.40,543.50 C204.40,544.67 205.07,550.92 206.00,555.00 C206.93,559.08 208.08,569.67 209.00,568.00 C209.92,566.33 210.67,553.00 211.50,545.00 C212.33,537.00 213.18,525.08 214.00,520.00 C214.82,514.92 215.57,511.17 216.40,514.50 C217.23,517.83 218.15,531.42 219.00,540.00 C219.85,548.58 220.67,562.67 221.50,566.00 C222.33,569.33 223.17,566.00 224.00,560.00 C224.83,554.00 225.58,537.58 226.50,530.00 C227.42,522.42 228.75,516.17 229.50,514.50 C230.25,512.83 230.75,519.08 231.00,520.00" fill="none" stroke="#1cb1ec" stroke-width="3.00" stroke-linejoin="round" stroke-linecap="butt"/>
<path d="M189.50,558.00 C189.92,557.00 191.08,552.33 192.00,552.00 C192.92,551.67 194.00,556.33 195.00,556.00 C196.00,555.67 197.00,552.67 198.00,550.00 C199.00,547.33 200.00,540.33 201.00,540.00 C202.00,539.67 203.00,548.83 204.00,548.00 C205.00,547.17 206.00,540.17 207.00,535.00 C208.00,529.83 209.08,516.17 210.00,517.00 C210.92,517.83 211.67,531.50 212.50,540.00 C213.33,548.50 214.17,563.17 215.00,568.00 C215.83,572.83 216.67,573.67 217.50,569.00 C218.33,564.33 219.17,548.50 220.00,540.00 C220.83,531.50 221.67,520.50 222.50,518.00 C223.33,515.50 224.17,519.67 225.00,525.00 C225.83,530.33 226.67,543.83 227.50,550.00 C228.33,556.17 229.37,561.17 230.00,562.00 C230.63,562.83 231.08,556.17 231.30,555.00" fill="none" stroke="#1cb1ec" stroke-width="3.00" stroke-linejoin="round" stroke-linecap="butt"/>
<path d="M42.10,551.10 C42.30,549.05 42.63,542.65 43.30,538.80 C43.97,534.95 45.23,528.78 46.10,528.00 C46.97,527.22 47.78,531.20 48.50,534.10 C49.22,537.00 49.45,542.73 50.40,545.40 C51.35,548.07 53.27,549.15 54.20,550.10 C55.13,551.05 55.22,552.20 56.00,551.10 C56.78,550.00 57.72,546.33 58.90,543.50 C60.08,540.67 61.93,535.03 63.10,534.10 C64.27,533.17 65.03,535.55 65.90,537.90 C66.77,540.25 67.50,544.52 68.30,548.20 C69.10,551.88 69.63,559.70 70.70,560.00 C71.77,560.30 73.38,556.45 74.70,550.00 C76.02,543.55 77.53,523.05 78.60,521.30 C79.67,519.55 80.20,531.63 81.10,539.50 C82.00,547.37 82.73,566.57 84.00,568.50 C85.27,570.43 87.25,551.48 88.70,551.10 C90.15,550.72 91.48,567.13 92.70,566.20 C93.92,565.27 94.95,550.72 96.00,545.50 C97.05,540.28 98.00,536.40 99.00,534.90 C100.00,533.40 100.73,534.18 102.00,536.50 C103.27,538.82 105.27,548.48 106.60,548.80 C107.93,549.12 108.85,540.62 110.00,538.40 C111.15,536.18 112.43,534.93 113.50,535.50 C114.57,536.07 115.43,539.78 116.40,541.80 C117.37,543.82 118.33,547.60 119.30,547.60 C120.27,547.60 121.03,547.58 122.20,541.80 C123.37,536.02 125.03,513.28 126.30,512.90 C127.57,512.52 128.65,532.73 129.80,539.50 C130.95,546.27 132.08,550.55 133.20,553.50 C134.32,556.45 135.35,557.60 136.50,557.20 C137.65,556.80 139.00,553.30 140.10,551.10 C141.20,548.90 142.27,547.38 143.10,544.00 C143.93,540.62 144.33,535.02 145.10,530.80 C145.87,526.58 146.85,519.03 147.70,518.70 C148.55,518.37 149.45,523.40 150.20,528.80 C150.95,534.20 151.52,544.18 152.20,551.10 C152.88,558.02 153.45,569.45 154.30,570.30 C155.15,571.15 156.47,560.58 157.30,556.20 C158.13,551.82 158.55,547.22 159.30,544.00 C160.05,540.78 160.75,538.62 161.80,536.90 C162.85,535.18 164.38,536.65 165.60,533.70 C166.82,530.75 168.03,519.97 169.10,519.20 C170.17,518.43 171.23,526.10 172.00,529.10 C172.77,532.10 172.93,536.62 173.70,537.20 C174.47,537.78 175.63,532.30 176.60,532.60 C177.57,532.90 178.53,539.38 179.50,539.00 C180.47,538.62 181.52,530.98 182.40,530.30 C183.28,529.62 184.02,531.62 184.80,534.90 C185.58,538.18 186.53,547.00 187.10,550.00 C187.67,553.00 187.33,553.68 188.20,552.90 C189.07,552.12 191.23,550.03 192.30,545.30 C193.37,540.57 193.83,530.87 194.60,524.50 C195.37,518.13 196.22,507.10 196.90,507.10 C197.58,507.10 198.02,515.62 198.70,524.50 C199.38,533.38 200.43,553.65 201.00,560.40 C201.57,567.15 201.50,565.00 202.10,565.00 C202.70,565.00 203.78,561.37 204.60,560.40 C205.42,559.43 206.03,561.13 207.00,559.20 C207.97,557.27 209.25,551.50 210.40,548.80 C211.55,546.10 212.73,545.03 213.90,543.00 C215.07,540.97 216.33,539.78 217.40,536.60 C218.47,533.42 219.43,524.77 220.30,523.90 C221.17,523.03 221.83,528.90 222.60,531.40 C223.37,533.90 224.03,538.32 224.90,538.90 C225.77,539.48 226.83,535.95 227.80,534.90 C228.77,533.85 229.83,531.63 230.70,532.60 C231.57,533.57 232.13,538.58 233.00,540.70 C233.87,542.82 235.13,545.88 235.90,545.30 C236.67,544.72 237.02,539.23 237.60,537.20 C238.18,535.17 238.72,531.95 239.40,533.10 C240.08,534.25 241.03,540.33 241.70,544.10 C242.37,547.87 242.87,552.88 243.40,555.70 C243.93,558.52 244.32,561.18 244.90,561.00 C245.48,560.82 246.32,556.63 246.90,554.60 C247.48,552.57 248.15,549.77 248.40,548.80" fill="none" stroke="#000" stroke-width="3.50" stroke-linejoin="round" stroke-linecap="butt"/>
</g>
<line x1="42.10" y1="654.50" x2="45.30" y2="654.50" stroke="#222" stroke-width="1.35"/>
<line x1="42.10" y1="638.10" x2="45.30" y2="638.10" stroke="#222" stroke-width="1.35"/>
<line x1="42.10" y1="621.70" x2="45.30" y2="621.70" stroke="#222" stroke-width="1.35"/>
<line x1="42.10" y1="605.30" x2="45.30" y2="605.30" stroke="#222" stroke-width="1.35"/>
<line x1="42.10" y1="588.90" x2="45.30" y2="588.90" stroke="#222" stroke-width="1.35"/>
<line x1="42.10" y1="572.50" x2="45.30" y2="572.50" stroke="#222" stroke-width="1.35"/>
<line x1="42.10" y1="556.10" x2="45.30" y2="556.10" stroke="#222" stroke-width="1.35"/>
<line x1="42.10" y1="539.70" x2="45.30" y2="539.70" stroke="#222" stroke-width="1.35"/>
<line x1="42.10" y1="523.30" x2="45.30" y2="523.30" stroke="#222" stroke-width="1.35"/>
<line x1="42.10" y1="506.90" x2="45.30" y2="506.90" stroke="#222" stroke-width="1.35"/>
<line x1="42.10" y1="490.50" x2="45.30" y2="490.50" stroke="#222" stroke-width="1.35"/>
<line x1="42.10" y1="654.90" x2="42.10" y2="652.60" stroke="#222" stroke-width="1.35"/>
<line x1="65.67" y1="654.90" x2="65.67" y2="652.60" stroke="#222" stroke-width="1.35"/>
<line x1="89.23" y1="654.90" x2="89.23" y2="652.60" stroke="#222" stroke-width="1.35"/>
<line x1="112.80" y1="654.90" x2="112.80" y2="652.60" stroke="#222" stroke-width="1.35"/>
<line x1="136.37" y1="654.90" x2="136.37" y2="652.60" stroke="#222" stroke-width="1.35"/>
<line x1="159.93" y1="654.90" x2="159.93" y2="652.60" stroke="#222" stroke-width="1.35"/>
<line x1="183.50" y1="654.90" x2="183.50" y2="652.60" stroke="#222" stroke-width="1.35"/>
<line x1="207.07" y1="654.90" x2="207.07" y2="652.60" stroke="#222" stroke-width="1.35"/>
<line x1="230.63" y1="654.90" x2="230.63" y2="652.60" stroke="#222" stroke-width="1.35"/>
<line x1="254.20" y1="654.90" x2="254.20" y2="652.60" stroke="#222" stroke-width="1.35"/>
<line x1="41.30" y1="490.50" x2="255.25" y2="490.50" stroke="#2c2c2c" stroke-width="1.7"/>
<line x1="42.10" y1="489.70" x2="42.10" y2="655.60" stroke="#2c2c2c" stroke-width="1.7"/>
<line x1="41.30" y1="654.90" x2="255.25" y2="654.90" stroke="#141414" stroke-width="1.4"/>
<line x1="254.55" y1="489.70" x2="254.55" y2="655.60" stroke="#141414" stroke-width="1.4"/>
<text x="23.70" y="655.20" font-family='"Liberation Sans", sans-serif' font-size="11.6" fill="#111">20</text>
<text x="23.70" y="624.70" font-family='"Liberation Sans", sans-serif' font-size="11.6" fill="#111">22</text>
<text x="23.70" y="591.90" font-family='"Liberation Sans", sans-serif' font-size="11.6" fill="#111">24</text>
<text x="23.70" y="559.10" font-family='"Liberation Sans", sans-serif' font-size="11.6" fill="#111">26</text>
<text x="23.70" y="526.30" font-family='"Liberation Sans", sans-serif' font-size="11.6" fill="#111">28</text>
<text x="23.70" y="495.40" font-family='"Liberation Sans", sans-serif' font-size="11.6" fill="#111">30</text>
<path d="M56.73,669.90 L56.73,661.68 L56.04,661.68 C55.70,662.87 55.15,663.17 54.22,663.33 L54.22,664.01 L55.70,664.01 L55.70,669.90 Z" fill="#111" stroke="#111" stroke-width="0.22" stroke-linejoin="round"/>
<text x="59.22" y="669.90" font-family='"Liberation Sans", sans-serif' font-size="11.6" fill="#111">970</text>
<path d="M103.87,669.90 L103.87,661.68 L103.17,661.68 C102.84,662.87 102.28,663.17 101.35,663.33 L101.35,664.01 L102.84,664.01 L102.84,669.90 Z" fill="#111" stroke="#111" stroke-width="0.22" stroke-linejoin="round"/>
<text x="106.35" y="669.90" font-family='"Liberation Sans", sans-serif' font-size="11.6" fill="#111">980</text>
<path d="M151.00,669.90 L151.00,661.68 L150.31,661.68 C149.97,662.87 149.41,663.17 148.48,663.33 L148.48,664.01 L149.97,664.01 L149.97,669.90 Z" fill="#111" stroke="#111" stroke-width="0.22" stroke-linejoin="round"/>
<text x="153.48" y="669.90" font-family='"Liberation Sans", sans-serif' font-size="11.6" fill="#111">990</text>
<text x="194.17" y="669.90" font-family='"Liberation Sans", sans-serif' font-size="11.6" fill="#111">2000</text>
<text x="241.30" y="669.90" font-family='"Liberation Sans", sans-serif' font-size="11.6" fill="#111">20</text>
<path d="M258.17,669.90 L258.17,661.68 L257.47,661.68 C257.13,662.87 256.58,663.17 255.65,663.33 L255.65,664.01 L257.13,664.01 L257.13,669.90 Z" fill="#111" stroke="#111" stroke-width="0.22" stroke-linejoin="round"/>
<text x="260.65" y="669.90" font-family='"Liberation Sans", sans-serif' font-size="11.6" fill="#111">0</text>
<text x="150.5" y="685.80" text-anchor="middle" font-family='"Liberation Sans", sans-serif' font-size="15" fill="#111">year</text>
<text transform="translate(13.4,573.30) rotate(-90)" text-anchor="middle" font-family='"Liberation Sans", sans-serif' font-size="15.3" fill="#111">SST Niño3.4</text>
<text x="41.9" y="481.10" font-family='"Liberation Sans", sans-serif' font-size="17" font-weight="bold" fill="#111">(e)</text>
<line x1="348.95" y1="489.85" x2="348.95" y2="654.50" stroke="#1c1c1c" stroke-width="1.3" stroke-dasharray="1.30 4.367"/>
<line x1="398.32" y1="489.85" x2="398.32" y2="654.50" stroke="#1c1c1c" stroke-width="1.3" stroke-dasharray="1.30 4.367"/>
<line x1="447.70" y1="489.85" x2="447.70" y2="654.50" stroke="#1c1c1c" stroke-width="1.3" stroke-dasharray="1.30 4.367"/>
<line x1="497.08" y1="489.85" x2="497.08" y2="654.50" stroke="#1c1c1c" stroke-width="1.3" stroke-dasharray="1.30 4.367"/>
<line x1="546.45" y1="489.85" x2="546.45" y2="654.50" stroke="#1c1c1c" stroke-width="1.3" stroke-dasharray="1.30 4.367"/>
<line x1="328.20" y1="613.50" x2="566.20" y2="613.50" stroke="#1c1c1c" stroke-width="1.3" stroke-dasharray="1.30 4.355"/>
<line x1="328.20" y1="572.50" x2="566.20" y2="572.50" stroke="#1c1c1c" stroke-width="1.3" stroke-dasharray="1.30 4.355"/>
<line x1="328.20" y1="531.50" x2="566.20" y2="531.50" stroke="#1c1c1c" stroke-width="1.3" stroke-dasharray="1.30 4.355"/>
<g clip-path="url(#cr2)">
<path d="M329.20,581.93 C330.85,582.13 335.78,582.82 339.07,583.16 C342.37,583.50 344.84,583.98 348.95,583.98 C353.06,583.98 359.98,583.71 363.76,583.16 C367.55,582.61 368.37,581.93 371.66,580.70 C374.95,579.47 379.97,577.69 383.51,575.78 C387.05,573.87 388.53,572.50 392.89,569.22 C397.26,565.94 405.48,560.20 409.68,556.10 C413.88,552.00 415.69,547.90 418.07,544.62 C420.46,541.34 422.19,539.02 424.00,536.42 C425.81,533.82 426.72,532.12 428.94,529.04 C431.16,525.96 435.03,520.70 437.33,517.97 C439.64,515.24 440.79,513.91 442.76,512.64 C444.74,511.37 447.29,510.55 449.18,510.34 C451.07,510.14 452.14,510.18 454.12,511.41 C456.09,512.64 459.06,515.67 461.03,517.72 C463.01,519.77 464.16,521.00 465.97,523.71 C467.78,526.42 470.00,530.34 471.89,533.96 C473.79,537.58 475.43,541.48 477.33,545.44 C479.22,549.40 481.44,554.05 483.25,557.74 C485.06,561.43 485.88,563.75 488.19,567.58 C490.49,571.41 493.54,577.01 497.08,580.70 C500.61,584.39 505.63,587.53 509.42,589.72 C513.20,591.91 515.59,592.59 519.79,593.82 C523.98,595.05 530.16,596.49 534.60,597.10 C539.04,597.72 541.18,597.37 546.45,597.51 C551.72,597.65 562.91,597.85 566.20,597.92" fill="none" stroke="#000" stroke-width="2.80" stroke-linejoin="round" stroke-linecap="butt" stroke-dasharray="9.0 5.8"/>
<path d="M329.20,595.71 C330.85,595.73 335.78,595.91 339.07,595.87 C342.37,595.83 345.25,595.87 348.95,595.46 C352.65,595.05 357.51,594.09 361.29,593.41 C365.08,592.73 367.96,592.32 371.66,591.36 C375.37,590.40 379.97,589.24 383.51,587.67 C387.05,586.10 390.43,583.77 392.89,581.93 C395.36,580.08 395.53,580.22 398.32,576.60 C401.12,572.98 406.72,565.46 409.68,560.20 C412.64,554.94 413.96,549.81 416.10,545.03 C418.24,540.25 420.30,536.22 422.52,531.50 C424.74,526.78 427.21,520.98 429.43,516.74 C431.65,512.50 433.84,509.41 435.85,506.08 C437.86,502.75 439.83,499.12 441.48,496.73 C443.12,494.34 444.52,492.70 445.73,491.73 C446.93,490.76 447.70,490.77 448.69,490.91 C449.68,491.05 450.47,490.90 451.65,492.55 C452.84,494.20 454.23,497.69 455.80,500.83 C457.37,503.98 459.31,508.08 461.08,511.41 C462.85,514.74 464.64,517.68 466.41,520.84 C468.18,524.00 470.04,527.35 471.70,530.35 C473.35,533.36 474.74,535.82 476.34,538.88 C477.93,541.94 479.65,545.40 481.28,548.72 C482.90,552.04 484.47,555.53 486.11,558.81 C487.76,562.09 489.32,565.30 491.15,568.40 C492.98,571.50 495.10,574.82 497.08,577.42 C499.05,580.02 500.94,582.07 503.00,583.98 C505.06,585.89 506.62,587.40 509.42,588.90 C512.22,590.40 515.59,591.91 519.79,593.00 C523.98,594.09 530.16,594.91 534.60,595.46 C539.04,596.01 541.18,596.01 546.45,596.28 C551.72,596.55 562.91,596.96 566.20,597.10" fill="none" stroke="#000" stroke-width="2.00" stroke-linejoin="round" stroke-linecap="butt"/>
<path d="M329.20,609.40 C330.85,609.54 335.78,610.49 339.07,610.22 C342.37,609.95 345.33,609.54 348.95,607.76 C352.57,605.98 357.01,602.70 360.80,599.56 C364.59,596.42 368.12,593.20 371.66,588.90 C375.20,584.60 378.49,578.65 382.03,573.73 C385.57,568.81 389.15,564.31 392.89,559.38 C396.64,554.45 400.98,549.13 404.50,544.13 C408.01,539.13 410.81,533.93 413.98,529.37 C417.15,524.80 420.34,520.62 423.51,516.74 C426.67,512.86 430.19,508.33 432.99,506.08 C435.78,503.82 438.36,503.62 440.29,503.21 C442.23,502.80 442.87,503.14 444.59,503.62 C446.31,504.10 448.75,504.78 450.61,506.08 C452.48,507.38 454.05,509.47 455.80,511.41 C457.54,513.35 459.31,515.44 461.08,517.72 C462.85,520.01 464.64,522.29 466.41,525.10 C468.18,527.92 470.12,531.61 471.70,534.62 C473.28,537.62 474.87,541.07 475.89,543.14 C476.91,545.22 475.77,543.28 477.82,547.08 C479.87,550.88 484.98,560.34 488.19,565.94 C491.40,571.54 493.54,575.78 497.08,580.70 C500.61,585.62 505.63,591.36 509.42,595.46 C513.20,599.56 516.25,602.70 519.79,605.30 C523.33,607.90 527.11,609.81 530.65,611.04 C534.19,612.27 537.56,612.41 541.02,612.68 C544.48,612.95 547.19,613.64 551.39,612.68 C555.58,611.72 563.73,607.90 566.20,606.94" fill="none" stroke="#1cb1ec" stroke-width="2.70" stroke-linejoin="round" stroke-linecap="butt" stroke-dasharray="9.0 5.8"/>
<path d="M329.20,611.86 C330.85,612.41 335.78,614.32 339.07,615.14 C342.37,615.96 345.33,616.92 348.95,616.78 C352.57,616.64 357.01,615.82 360.80,614.32 C364.59,612.82 368.12,610.63 371.66,607.76 C375.20,604.89 378.49,601.34 382.03,597.10 C385.57,592.86 389.36,587.94 392.89,582.34 C396.43,576.74 400.08,569.70 403.26,563.48 C406.45,557.26 409.49,550.50 412.00,545.03 C414.51,539.56 416.22,535.59 418.32,530.68 C420.43,525.77 422.54,520.03 424.64,515.59 C426.75,511.15 428.85,507.20 430.96,504.03 C433.08,500.86 435.22,498.51 437.33,496.57 C439.44,494.63 441.87,493.33 443.60,492.39 C445.33,491.44 446.52,491.09 447.70,490.91 C448.88,490.73 449.31,490.38 450.66,491.32 C452.01,492.26 454.06,494.45 455.80,496.57 C457.53,498.69 459.31,501.35 461.08,504.03 C462.85,506.71 464.64,509.65 466.41,512.64 C468.18,515.63 469.94,518.68 471.70,521.99 C473.46,525.30 475.23,529.07 476.98,532.48 C478.73,535.90 480.35,539.00 482.21,542.49 C484.08,545.97 485.71,548.80 488.19,553.39 C490.66,557.99 494.61,565.69 497.08,570.04 C499.54,574.39 500.94,576.67 503.00,579.47 C505.06,582.27 506.62,583.50 509.42,586.85 C512.22,590.20 516.25,595.87 519.79,599.56 C523.33,603.25 527.11,606.74 530.65,608.99 C534.19,611.25 537.56,612.41 541.02,613.09 C544.48,613.77 547.19,614.39 551.39,613.09 C555.58,611.79 563.73,606.60 566.20,605.30" fill="none" stroke="#1cb1ec" stroke-width="2.90" stroke-linejoin="round" stroke-linecap="butt"/>
</g>
<line x1="329.20" y1="646.30" x2="332.70" y2="646.30" stroke="#222" stroke-width="1.35"/>
<line x1="329.20" y1="638.10" x2="332.70" y2="638.10" stroke="#222" stroke-width="1.35"/>
<line x1="329.20" y1="629.90" x2="332.70" y2="629.90" stroke="#222" stroke-width="1.35"/>
<line x1="329.20" y1="621.70" x2="332.70" y2="621.70" stroke="#222" stroke-width="1.35"/>
<line x1="329.20" y1="605.30" x2="332.70" y2="605.30" stroke="#222" stroke-width="1.35"/>
<line x1="329.20" y1="597.10" x2="332.70" y2="597.10" stroke="#222" stroke-width="1.35"/>
<line x1="329.20" y1="588.90" x2="332.70" y2="588.90" stroke="#222" stroke-width="1.35"/>
<line x1="329.20" y1="580.70" x2="332.70" y2="580.70" stroke="#222" stroke-width="1.35"/>
<line x1="329.20" y1="564.30" x2="332.70" y2="564.30" stroke="#222" stroke-width="1.35"/>
<line x1="329.20" y1="556.10" x2="332.70" y2="556.10" stroke="#222" stroke-width="1.35"/>
<line x1="329.20" y1="547.90" x2="332.70" y2="547.90" stroke="#222" stroke-width="1.35"/>
<line x1="329.20" y1="539.70" x2="332.70" y2="539.70" stroke="#222" stroke-width="1.35"/>
<line x1="329.20" y1="523.30" x2="332.70" y2="523.30" stroke="#222" stroke-width="1.35"/>
<line x1="329.20" y1="515.10" x2="332.70" y2="515.10" stroke="#222" stroke-width="1.35"/>
<line x1="329.20" y1="506.90" x2="332.70" y2="506.90" stroke="#222" stroke-width="1.35"/>
<line x1="329.20" y1="498.70" x2="332.70" y2="498.70" stroke="#222" stroke-width="1.35"/>
<line x1="348.95" y1="654.90" x2="348.95" y2="652.60" stroke="#222" stroke-width="1.35"/>
<line x1="373.64" y1="654.90" x2="373.64" y2="652.60" stroke="#222" stroke-width="1.35"/>
<line x1="398.32" y1="654.90" x2="398.32" y2="652.60" stroke="#222" stroke-width="1.35"/>
<line x1="423.01" y1="654.90" x2="423.01" y2="652.60" stroke="#222" stroke-width="1.35"/>
<line x1="447.70" y1="654.90" x2="447.70" y2="652.60" stroke="#222" stroke-width="1.35"/>
<line x1="472.39" y1="654.90" x2="472.39" y2="652.60" stroke="#222" stroke-width="1.35"/>
<line x1="497.08" y1="654.90" x2="497.08" y2="652.60" stroke="#222" stroke-width="1.35"/>
<line x1="521.76" y1="654.90" x2="521.76" y2="652.60" stroke="#222" stroke-width="1.35"/>
<line x1="546.45" y1="654.90" x2="546.45" y2="652.60" stroke="#222" stroke-width="1.35"/>
<line x1="328.40" y1="490.50" x2="567.05" y2="490.50" stroke="#2c2c2c" stroke-width="1.7"/>
<line x1="329.20" y1="489.70" x2="329.20" y2="655.60" stroke="#2c2c2c" stroke-width="1.7"/>
<line x1="328.40" y1="654.90" x2="567.05" y2="654.90" stroke="#141414" stroke-width="1.4"/>
<line x1="566.35" y1="489.70" x2="566.35" y2="655.60" stroke="#141414" stroke-width="1.4"/>
<path d="M320.92,494.90 L320.92,486.68 L320.22,486.68 C319.89,487.87 319.33,488.17 318.40,488.33 L318.40,489.01 L319.89,489.01 L319.89,494.90 Z" fill="#111" stroke="#111" stroke-width="0.22" stroke-linejoin="round"/>
<text x="307.28" y="534.50" font-family='"Liberation Sans", sans-serif' font-size="11.6" fill="#111">0.5</text>
<text x="316.95" y="575.50" font-family='"Liberation Sans", sans-serif' font-size="11.6" fill="#111">0</text>
<text x="303.41" y="616.50" font-family='"Liberation Sans", sans-serif' font-size="11.6" fill="#111">-0.5</text>
<text x="313.09" y="655.50" font-family='"Liberation Sans", sans-serif' font-size="11.6" fill="#111">-</text>
<path d="M320.92,655.50 L320.92,647.28 L320.22,647.28 C319.89,648.47 319.33,648.77 318.40,648.93 L318.40,649.61 L319.89,649.61 L319.89,655.50 Z" fill="#111" stroke="#111" stroke-width="0.22" stroke-linejoin="round"/>
<text x="340.57" y="669.90" font-family='"Liberation Sans", sans-serif' font-size="11.6" fill="#111">-20</text>
<text x="389.94" y="669.90" font-family='"Liberation Sans", sans-serif' font-size="11.6" fill="#111">-</text>
<path d="M397.77,669.90 L397.77,661.68 L397.08,661.68 C396.74,662.87 396.18,663.17 395.26,663.33 L395.26,664.01 L396.74,664.01 L396.74,669.90 Z" fill="#111" stroke="#111" stroke-width="0.22" stroke-linejoin="round"/>
<text x="400.26" y="669.90" font-family='"Liberation Sans", sans-serif' font-size="11.6" fill="#111">0</text>
<text x="444.48" y="669.90" font-family='"Liberation Sans", sans-serif' font-size="11.6" fill="#111">0</text>
<path d="M494.59,669.90 L494.59,661.68 L493.90,661.68 C493.56,662.87 493.00,663.17 492.08,663.33 L492.08,664.01 L493.56,664.01 L493.56,669.90 Z" fill="#111" stroke="#111" stroke-width="0.22" stroke-linejoin="round"/>
<text x="497.08" y="669.90" font-family='"Liberation Sans", sans-serif' font-size="11.6" fill="#111">0</text>
<text x="540.00" y="669.90" font-family='"Liberation Sans", sans-serif' font-size="11.6" fill="#111">20</text>
<text x="444.5" y="685.80" text-anchor="middle" font-family='"Liberation Sans", sans-serif' font-size="15.2" fill="#111">Lag (month)</text>
<text transform="translate(297.2,572.80) rotate(-90)" text-anchor="middle" font-family='"Liberation Sans", sans-serif' font-size="15" fill="#111">correlation</text>
<text x="328.3" y="481.10" font-family='"Liberation Sans", sans-serif' font-size="17" font-weight="bold" fill="#111">(f)</text>
</g>
</svg>
</body></html>
